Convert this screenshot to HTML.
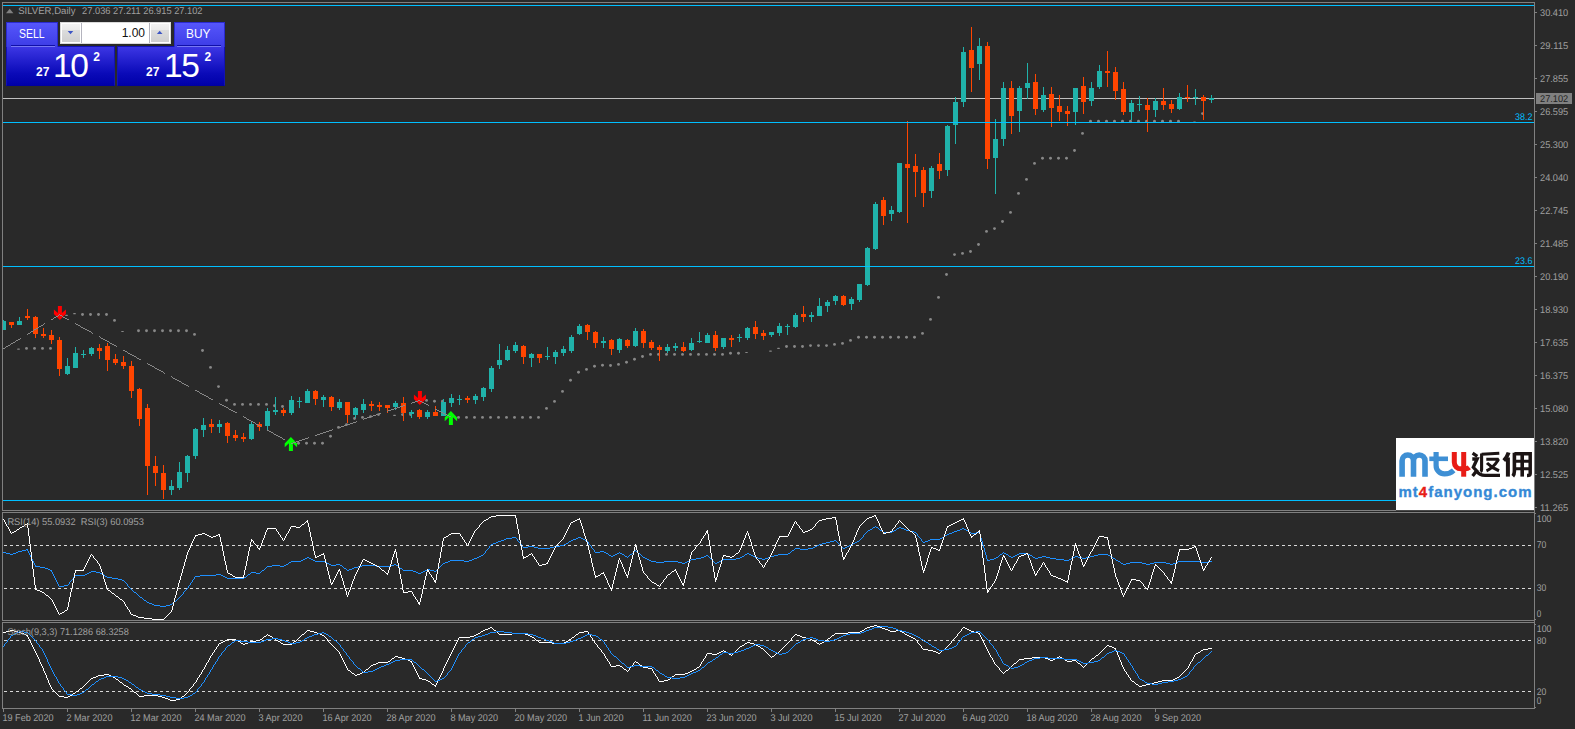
<!DOCTYPE html>
<html><head><meta charset="utf-8"><title>SILVER Daily</title><style>
html,body{margin:0;padding:0;background:#292929;overflow:hidden}
body{width:1575px;height:729px;position:relative;font-family:"Liberation Sans",sans-serif}
.tab{position:absolute;background:linear-gradient(#5656fb,#3c3ce6);box-sizing:border-box;border-top:1px solid #2a2ad0;border-left:1px solid #2a2ad0;border-right:1px solid #2a2ad0}
.tab span{position:absolute;color:#fff;font-size:12px;line-height:14px;transform-origin:0 0;white-space:nowrap}
.tab i{position:absolute;top:22px;height:1px;background:#1010a8;border-bottom:1px solid #7878f4}
.big{position:absolute;box-sizing:border-box;border:1px solid #1212b4;border-bottom-color:#0000a0;background:linear-gradient(#3c36e4,#0a0ab8 70%,#0000a8)}
.spin{position:absolute;left:60px;top:22px;width:111px;height:22px;background:#fff;box-sizing:border-box;border:1px solid #dadada}
.spin .btn{position:absolute;top:1px;width:18px;height:18px;background:linear-gradient(#f3f3f3,#ebebeb 32%,#dddddd 33%,#cfcfcf)}
.spin b{position:absolute;top:0;width:1px;height:20px;background:#b4b4be}
.spin .btn svg{position:absolute;left:0;top:0}
.spin .val{position:absolute;right:25px;top:3px;font-size:12px;line-height:14px;color:#101010}
.num{position:absolute;color:#fff;line-height:1.15;white-space:nowrap}
.logo{position:absolute;left:1396px;top:438px;width:138px;height:72px;background:#fff;overflow:hidden}
</style></head><body>
<svg width="1575" height="729" viewBox="0 0 1575 729" style="position:absolute;left:0;top:0;font-family:'Liberation Sans',sans-serif">
<rect x="0" y="0" width="1575" height="729" fill="#292929"/>
<g shape-rendering="crispEdges">
<rect x="2" y="2" width="1533" height="1" fill="#808080"/>
<rect x="2" y="510" width="1533" height="1" fill="#808080"/>
<rect x="2" y="2" width="1" height="509" fill="#808080"/>
<rect x="2" y="512" width="1533" height="1" fill="#808080"/>
<rect x="2" y="620" width="1533" height="1" fill="#808080"/>
<rect x="2" y="512" width="1" height="109" fill="#808080"/>
<rect x="2" y="622" width="1533" height="1" fill="#808080"/>
<rect x="2" y="708" width="1533" height="1" fill="#808080"/>
<rect x="2" y="622" width="1" height="87" fill="#808080"/>
<rect x="1534" y="2" width="1" height="707" fill="#808080"/>
<rect x="1396" y="510" width="138" height="1" fill="#4a4a4a"/>
</g>
<rect x="17.2" y="348.6" width="2.6" height="1.2" rx="0.5" fill="#888888"/>
<circle cx="26.5" cy="348.4" r="1.45" fill="#888888"/>
<circle cx="34.5" cy="348.4" r="1.45" fill="#888888"/>
<circle cx="42.5" cy="348.4" r="1.45" fill="#888888"/>
<circle cx="50.5" cy="348.4" r="1.45" fill="#888888"/>
<rect x="65.2" y="314.7" width="2.6" height="1.2" rx="0.5" fill="#888888"/>
<rect x="73.2" y="313.1" width="2.6" height="1.1" rx="0.5" fill="#888888"/>
<circle cx="82.5" cy="314.5" r="1.45" fill="#888888"/>
<circle cx="90.5" cy="314.5" r="1.45" fill="#888888"/>
<circle cx="98.5" cy="314.5" r="1.45" fill="#888888"/>
<circle cx="106.5" cy="314.5" r="1.45" fill="#888888"/>
<circle cx="114.5" cy="320.4" r="1.45" fill="#888888"/>
<rect x="121.2" y="330.9" width="2.6" height="1.2" rx="0.5" fill="#888888"/>
<circle cx="138.5" cy="330.7" r="1.45" fill="#888888"/>
<circle cx="146.5" cy="330.7" r="1.45" fill="#888888"/>
<circle cx="154.5" cy="330.7" r="1.45" fill="#888888"/>
<circle cx="162.5" cy="330.7" r="1.45" fill="#888888"/>
<circle cx="170.5" cy="330.7" r="1.45" fill="#888888"/>
<circle cx="178.5" cy="330.7" r="1.45" fill="#888888"/>
<circle cx="186.5" cy="330.7" r="1.45" fill="#888888"/>
<circle cx="194.5" cy="334.4" r="1.45" fill="#888888"/>
<circle cx="202.5" cy="350.5" r="1.45" fill="#888888"/>
<circle cx="210.5" cy="367.4" r="1.45" fill="#888888"/>
<circle cx="218.5" cy="386.6" r="1.45" fill="#888888"/>
<circle cx="226.5" cy="400.3" r="1.45" fill="#888888"/>
<circle cx="234.5" cy="404.4" r="1.45" fill="#888888"/>
<circle cx="242.5" cy="404.4" r="1.45" fill="#888888"/>
<circle cx="250.5" cy="404.4" r="1.45" fill="#888888"/>
<circle cx="258.5" cy="404.4" r="1.45" fill="#888888"/>
<circle cx="266.5" cy="404.4" r="1.45" fill="#888888"/>
<circle cx="274.5" cy="405.7" r="1.45" fill="#888888"/>
<circle cx="282.5" cy="406.5" r="1.45" fill="#888888"/>
<circle cx="298.5" cy="443.3" r="1.45" fill="#888888"/>
<circle cx="306.5" cy="443.3" r="1.45" fill="#888888"/>
<circle cx="314.5" cy="443.3" r="1.45" fill="#888888"/>
<circle cx="322.5" cy="443.3" r="1.45" fill="#888888"/>
<circle cx="330.5" cy="436.3" r="1.45" fill="#888888"/>
<circle cx="338.5" cy="427.4" r="1.45" fill="#888888"/>
<circle cx="346.5" cy="424.6" r="1.45" fill="#888888"/>
<circle cx="354.5" cy="418.5" r="1.45" fill="#888888"/>
<circle cx="362.5" cy="417.4" r="1.45" fill="#888888"/>
<circle cx="370.5" cy="416.6" r="1.45" fill="#888888"/>
<circle cx="378.5" cy="414.6" r="1.45" fill="#888888"/>
<rect x="393.2" y="414.8" width="2.6" height="1.2" rx="0.5" fill="#888888"/>
<circle cx="402.5" cy="414.6" r="1.45" fill="#888888"/>
<circle cx="410.5" cy="414.6" r="1.45" fill="#888888"/>
<circle cx="426.5" cy="400.4" r="1.45" fill="#888888"/>
<circle cx="434.5" cy="401.3" r="1.45" fill="#888888"/>
<circle cx="442.5" cy="401.3" r="1.45" fill="#888888"/>
<circle cx="458.5" cy="417.4" r="1.45" fill="#888888"/>
<circle cx="466.5" cy="417.4" r="1.45" fill="#888888"/>
<circle cx="474.5" cy="417.4" r="1.45" fill="#888888"/>
<circle cx="482.5" cy="417.4" r="1.45" fill="#888888"/>
<circle cx="490.5" cy="417.4" r="1.45" fill="#888888"/>
<circle cx="498.5" cy="417.4" r="1.45" fill="#888888"/>
<circle cx="506.5" cy="417.4" r="1.45" fill="#888888"/>
<circle cx="514.5" cy="417.4" r="1.45" fill="#888888"/>
<circle cx="522.5" cy="417.4" r="1.45" fill="#888888"/>
<circle cx="530.5" cy="417.4" r="1.45" fill="#888888"/>
<circle cx="538.5" cy="417.4" r="1.45" fill="#888888"/>
<circle cx="546.5" cy="408.4" r="1.45" fill="#888888"/>
<circle cx="554.5" cy="401.4" r="1.45" fill="#888888"/>
<circle cx="562.5" cy="391.4" r="1.45" fill="#888888"/>
<circle cx="570.5" cy="380.3" r="1.45" fill="#888888"/>
<circle cx="578.5" cy="372.3" r="1.45" fill="#888888"/>
<circle cx="586.5" cy="369.4" r="1.45" fill="#888888"/>
<circle cx="594.5" cy="366.3" r="1.45" fill="#888888"/>
<circle cx="602.5" cy="365.3" r="1.45" fill="#888888"/>
<circle cx="610.5" cy="365.5" r="1.45" fill="#888888"/>
<circle cx="618.5" cy="364.4" r="1.45" fill="#888888"/>
<circle cx="626.5" cy="362.3" r="1.45" fill="#888888"/>
<circle cx="634.5" cy="359.3" r="1.45" fill="#888888"/>
<circle cx="642.5" cy="356.5" r="1.45" fill="#888888"/>
<circle cx="650.5" cy="354.4" r="1.45" fill="#888888"/>
<circle cx="658.5" cy="354.4" r="1.45" fill="#888888"/>
<circle cx="666.5" cy="354.4" r="1.45" fill="#888888"/>
<circle cx="674.5" cy="354.4" r="1.45" fill="#888888"/>
<circle cx="682.5" cy="354.4" r="1.45" fill="#888888"/>
<circle cx="690.5" cy="354.4" r="1.45" fill="#888888"/>
<circle cx="698.5" cy="354.4" r="1.45" fill="#888888"/>
<circle cx="706.5" cy="354.4" r="1.45" fill="#888888"/>
<circle cx="714.5" cy="354.4" r="1.45" fill="#888888"/>
<circle cx="722.5" cy="354.4" r="1.45" fill="#888888"/>
<circle cx="730.5" cy="353.3" r="1.45" fill="#888888"/>
<circle cx="738.5" cy="353.3" r="1.45" fill="#888888"/>
<rect x="745.2" y="351.9" width="2.6" height="1.1" rx="0.5" fill="#888888"/>
<rect x="769.2" y="350.6" width="2.6" height="1.2" rx="0.5" fill="#888888"/>
<rect x="777.2" y="347.8" width="2.6" height="1.2" rx="0.5" fill="#888888"/>
<circle cx="786.5" cy="346.5" r="1.45" fill="#888888"/>
<circle cx="794.5" cy="346.5" r="1.45" fill="#888888"/>
<circle cx="802.5" cy="346.5" r="1.45" fill="#888888"/>
<circle cx="810.5" cy="345.6" r="1.45" fill="#888888"/>
<circle cx="818.5" cy="345.6" r="1.45" fill="#888888"/>
<circle cx="826.5" cy="345.6" r="1.45" fill="#888888"/>
<circle cx="834.5" cy="344.4" r="1.45" fill="#888888"/>
<circle cx="842.5" cy="343.4" r="1.45" fill="#888888"/>
<circle cx="850.5" cy="340.4" r="1.45" fill="#888888"/>
<circle cx="858.5" cy="337.3" r="1.45" fill="#888888"/>
<circle cx="866.5" cy="337.3" r="1.45" fill="#888888"/>
<circle cx="874.5" cy="337.3" r="1.45" fill="#888888"/>
<circle cx="882.5" cy="337.3" r="1.45" fill="#888888"/>
<circle cx="890.5" cy="337.3" r="1.45" fill="#888888"/>
<circle cx="898.5" cy="337.3" r="1.45" fill="#888888"/>
<circle cx="906.5" cy="337.3" r="1.45" fill="#888888"/>
<circle cx="914.5" cy="337.3" r="1.45" fill="#888888"/>
<circle cx="922.5" cy="333.4" r="1.45" fill="#888888"/>
<circle cx="930.5" cy="319.4" r="1.45" fill="#888888"/>
<circle cx="938.5" cy="297.4" r="1.45" fill="#888888"/>
<circle cx="946.5" cy="274.5" r="1.45" fill="#888888"/>
<circle cx="954.5" cy="254.6" r="1.45" fill="#888888"/>
<circle cx="962.5" cy="253.4" r="1.45" fill="#888888"/>
<circle cx="970.5" cy="251.5" r="1.45" fill="#888888"/>
<circle cx="978.5" cy="244.5" r="1.45" fill="#888888"/>
<circle cx="986.5" cy="231.4" r="1.45" fill="#888888"/>
<circle cx="994.5" cy="228.6" r="1.45" fill="#888888"/>
<circle cx="1002.5" cy="221.5" r="1.45" fill="#888888"/>
<circle cx="1010.5" cy="212.4" r="1.45" fill="#888888"/>
<circle cx="1018.5" cy="193.4" r="1.45" fill="#888888"/>
<circle cx="1026.5" cy="179.4" r="1.45" fill="#888888"/>
<circle cx="1034.5" cy="163.4" r="1.45" fill="#888888"/>
<circle cx="1042.5" cy="158.3" r="1.45" fill="#888888"/>
<circle cx="1050.5" cy="158.3" r="1.45" fill="#888888"/>
<circle cx="1058.5" cy="158.3" r="1.45" fill="#888888"/>
<circle cx="1066.5" cy="158.3" r="1.45" fill="#888888"/>
<circle cx="1074.5" cy="150.5" r="1.45" fill="#888888"/>
<circle cx="1082.5" cy="133.4" r="1.45" fill="#888888"/>
<circle cx="1090.5" cy="121.2" r="1.45" fill="#888888"/>
<circle cx="1098.5" cy="121.2" r="1.45" fill="#888888"/>
<circle cx="1106.5" cy="121.2" r="1.45" fill="#888888"/>
<circle cx="1114.5" cy="121.2" r="1.45" fill="#888888"/>
<circle cx="1122.5" cy="121.2" r="1.45" fill="#888888"/>
<circle cx="1130.5" cy="121.2" r="1.45" fill="#888888"/>
<circle cx="1138.5" cy="121.2" r="1.45" fill="#888888"/>
<circle cx="1146.5" cy="121.2" r="1.45" fill="#888888"/>
<circle cx="1154.5" cy="121.2" r="1.45" fill="#888888"/>
<circle cx="1162.5" cy="121.2" r="1.45" fill="#888888"/>
<circle cx="1170.5" cy="121.2" r="1.45" fill="#888888"/>
<circle cx="1178.5" cy="121.2" r="1.45" fill="#888888"/>
<rect x="1193.2" y="121.4" width="2.6" height="1.2" rx="0.5" fill="#888888"/>
<circle cx="1202.5" cy="113.6" r="1.45" fill="#888888"/>
<g shape-rendering="crispEdges">
<rect x="3" y="98" width="1531" height="1" fill="#c0c0c0"/>
<rect x="3" y="321" width="3" height="9" fill="#20b2aa"/>
<rect x="3" y="320" width="1" height="1" fill="#20b2aa"/>
<rect x="11" y="322" width="1" height="6" fill="#ff4500"/>
<rect x="9" y="322" width="5" height="3" fill="#ff4500"/>
<rect x="19" y="317" width="1" height="8" fill="#20b2aa"/>
<rect x="17" y="321" width="5" height="4" fill="#20b2aa"/>
<rect x="27" y="309" width="1" height="11" fill="#ff4500"/>
<rect x="25" y="316" width="5" height="2" fill="#ff4500"/>
<rect x="35" y="316" width="1" height="22" fill="#ff4500"/>
<rect x="33" y="317" width="5" height="17" fill="#ff4500"/>
<rect x="43" y="328" width="1" height="10" fill="#ff4500"/>
<rect x="41" y="334" width="5" height="2" fill="#ff4500"/>
<rect x="51" y="330" width="1" height="14" fill="#ff4500"/>
<rect x="49" y="335" width="5" height="5" fill="#ff4500"/>
<rect x="59" y="337" width="1" height="39" fill="#ff4500"/>
<rect x="57" y="340" width="5" height="29" fill="#ff4500"/>
<rect x="67" y="358" width="1" height="17" fill="#20b2aa"/>
<rect x="65" y="366" width="5" height="8" fill="#20b2aa"/>
<rect x="75" y="347" width="1" height="21" fill="#20b2aa"/>
<rect x="73" y="353" width="5" height="15" fill="#20b2aa"/>
<rect x="83" y="350" width="1" height="8" fill="#20b2aa"/>
<rect x="81" y="354" width="5" height="1" fill="#20b2aa"/>
<rect x="91" y="347" width="1" height="9" fill="#20b2aa"/>
<rect x="89" y="348" width="5" height="6" fill="#20b2aa"/>
<rect x="99" y="344" width="1" height="15" fill="#ff4500"/>
<rect x="97" y="348" width="5" height="3" fill="#ff4500"/>
<rect x="107" y="343" width="1" height="28" fill="#ff4500"/>
<rect x="105" y="346" width="5" height="14" fill="#ff4500"/>
<rect x="115" y="354" width="1" height="11" fill="#ff4500"/>
<rect x="113" y="359" width="5" height="4" fill="#ff4500"/>
<rect x="123" y="356" width="1" height="13" fill="#ff4500"/>
<rect x="121" y="362" width="5" height="4" fill="#ff4500"/>
<rect x="131" y="361" width="1" height="37" fill="#ff4500"/>
<rect x="129" y="366" width="5" height="25" fill="#ff4500"/>
<rect x="139" y="388" width="1" height="38" fill="#ff4500"/>
<rect x="137" y="389" width="5" height="30" fill="#ff4500"/>
<rect x="147" y="404" width="1" height="91" fill="#ff4500"/>
<rect x="145" y="408" width="5" height="58" fill="#ff4500"/>
<rect x="155" y="456" width="1" height="30" fill="#ff4500"/>
<rect x="153" y="466" width="5" height="7" fill="#ff4500"/>
<rect x="163" y="465" width="1" height="34" fill="#ff4500"/>
<rect x="161" y="473" width="5" height="17" fill="#ff4500"/>
<rect x="171" y="480" width="1" height="15" fill="#20b2aa"/>
<rect x="169" y="486" width="5" height="4" fill="#20b2aa"/>
<rect x="179" y="462" width="1" height="28" fill="#20b2aa"/>
<rect x="177" y="472" width="5" height="16" fill="#20b2aa"/>
<rect x="187" y="455" width="1" height="27" fill="#20b2aa"/>
<rect x="185" y="456" width="5" height="17" fill="#20b2aa"/>
<rect x="195" y="428" width="1" height="31" fill="#20b2aa"/>
<rect x="193" y="429" width="5" height="27" fill="#20b2aa"/>
<rect x="203" y="418" width="1" height="19" fill="#20b2aa"/>
<rect x="201" y="425" width="5" height="5" fill="#20b2aa"/>
<rect x="211" y="419" width="1" height="14" fill="#ff4500"/>
<rect x="209" y="424" width="5" height="3" fill="#ff4500"/>
<rect x="219" y="420" width="1" height="13" fill="#20b2aa"/>
<rect x="217" y="424" width="5" height="3" fill="#20b2aa"/>
<rect x="227" y="422" width="1" height="21" fill="#ff4500"/>
<rect x="225" y="423" width="5" height="13" fill="#ff4500"/>
<rect x="235" y="430" width="1" height="11" fill="#ff4500"/>
<rect x="233" y="435" width="5" height="3" fill="#ff4500"/>
<rect x="243" y="433" width="1" height="9" fill="#ff4500"/>
<rect x="241" y="437" width="5" height="2" fill="#ff4500"/>
<rect x="251" y="422" width="1" height="18" fill="#20b2aa"/>
<rect x="249" y="424" width="5" height="15" fill="#20b2aa"/>
<rect x="259" y="422" width="1" height="9" fill="#ff4500"/>
<rect x="257" y="424" width="5" height="3" fill="#ff4500"/>
<rect x="267" y="408" width="1" height="22" fill="#20b2aa"/>
<rect x="265" y="411" width="5" height="15" fill="#20b2aa"/>
<rect x="275" y="397" width="1" height="18" fill="#20b2aa"/>
<rect x="273" y="410" width="5" height="2" fill="#20b2aa"/>
<rect x="283" y="408" width="1" height="8" fill="#ff4500"/>
<rect x="281" y="410" width="5" height="3" fill="#ff4500"/>
<rect x="291" y="396" width="1" height="19" fill="#20b2aa"/>
<rect x="289" y="400" width="5" height="13" fill="#20b2aa"/>
<rect x="299" y="397" width="1" height="11" fill="#20b2aa"/>
<rect x="297" y="401" width="5" height="1" fill="#20b2aa"/>
<rect x="307" y="389" width="1" height="14" fill="#20b2aa"/>
<rect x="305" y="391" width="5" height="12" fill="#20b2aa"/>
<rect x="315" y="390" width="1" height="15" fill="#ff4500"/>
<rect x="313" y="391" width="5" height="8" fill="#ff4500"/>
<rect x="323" y="395" width="1" height="12" fill="#20b2aa"/>
<rect x="321" y="397" width="5" height="3" fill="#20b2aa"/>
<rect x="331" y="396" width="1" height="15" fill="#ff4500"/>
<rect x="329" y="397" width="5" height="10" fill="#ff4500"/>
<rect x="339" y="399" width="1" height="11" fill="#20b2aa"/>
<rect x="337" y="402" width="5" height="6" fill="#20b2aa"/>
<rect x="347" y="402" width="1" height="21" fill="#ff4500"/>
<rect x="345" y="402" width="5" height="13" fill="#ff4500"/>
<rect x="355" y="407" width="1" height="11" fill="#20b2aa"/>
<rect x="353" y="408" width="5" height="7" fill="#20b2aa"/>
<rect x="363" y="399" width="1" height="14" fill="#20b2aa"/>
<rect x="361" y="404" width="5" height="6" fill="#20b2aa"/>
<rect x="371" y="401" width="1" height="10" fill="#ff4500"/>
<rect x="369" y="404" width="5" height="2" fill="#ff4500"/>
<rect x="379" y="402" width="1" height="9" fill="#ff4500"/>
<rect x="377" y="405" width="5" height="2" fill="#ff4500"/>
<rect x="387" y="405" width="1" height="8" fill="#ff4500"/>
<rect x="385" y="405" width="5" height="3" fill="#ff4500"/>
<rect x="395" y="401" width="1" height="9" fill="#20b2aa"/>
<rect x="393" y="403" width="5" height="4" fill="#20b2aa"/>
<rect x="403" y="397" width="1" height="24" fill="#ff4500"/>
<rect x="401" y="403" width="5" height="10" fill="#ff4500"/>
<rect x="411" y="410" width="1" height="8" fill="#20b2aa"/>
<rect x="409" y="412" width="5" height="2" fill="#20b2aa"/>
<rect x="419" y="409" width="1" height="10" fill="#ff4500"/>
<rect x="417" y="410" width="5" height="7" fill="#ff4500"/>
<rect x="427" y="410" width="1" height="9" fill="#20b2aa"/>
<rect x="425" y="412" width="5" height="5" fill="#20b2aa"/>
<rect x="435" y="406" width="1" height="10" fill="#ff4500"/>
<rect x="433" y="412" width="5" height="4" fill="#ff4500"/>
<rect x="443" y="399" width="1" height="17" fill="#20b2aa"/>
<rect x="441" y="402" width="5" height="14" fill="#20b2aa"/>
<rect x="451" y="394" width="1" height="13" fill="#20b2aa"/>
<rect x="449" y="398" width="5" height="5" fill="#20b2aa"/>
<rect x="459" y="395" width="1" height="10" fill="#20b2aa"/>
<rect x="457" y="399" width="5" height="1" fill="#20b2aa"/>
<rect x="467" y="396" width="1" height="7" fill="#ff4500"/>
<rect x="465" y="398" width="5" height="2" fill="#ff4500"/>
<rect x="475" y="394" width="1" height="10" fill="#20b2aa"/>
<rect x="473" y="396" width="5" height="4" fill="#20b2aa"/>
<rect x="483" y="387" width="1" height="14" fill="#20b2aa"/>
<rect x="481" y="388" width="5" height="9" fill="#20b2aa"/>
<rect x="491" y="366" width="1" height="26" fill="#20b2aa"/>
<rect x="489" y="368" width="5" height="21" fill="#20b2aa"/>
<rect x="499" y="344" width="1" height="25" fill="#20b2aa"/>
<rect x="497" y="360" width="5" height="5" fill="#20b2aa"/>
<rect x="507" y="346" width="1" height="15" fill="#20b2aa"/>
<rect x="505" y="350" width="5" height="10" fill="#20b2aa"/>
<rect x="515" y="342" width="1" height="11" fill="#20b2aa"/>
<rect x="513" y="345" width="5" height="6" fill="#20b2aa"/>
<rect x="523" y="345" width="1" height="19" fill="#ff4500"/>
<rect x="521" y="346" width="5" height="11" fill="#ff4500"/>
<rect x="531" y="353" width="1" height="14" fill="#20b2aa"/>
<rect x="529" y="354" width="5" height="4" fill="#20b2aa"/>
<rect x="539" y="354" width="1" height="9" fill="#ff4500"/>
<rect x="537" y="354" width="5" height="4" fill="#ff4500"/>
<rect x="547" y="347" width="1" height="13" fill="#20b2aa"/>
<rect x="545" y="356" width="5" height="1" fill="#20b2aa"/>
<rect x="555" y="350" width="1" height="14" fill="#20b2aa"/>
<rect x="553" y="352" width="5" height="5" fill="#20b2aa"/>
<rect x="563" y="346" width="1" height="10" fill="#20b2aa"/>
<rect x="561" y="349" width="5" height="4" fill="#20b2aa"/>
<rect x="571" y="335" width="1" height="18" fill="#20b2aa"/>
<rect x="569" y="337" width="5" height="14" fill="#20b2aa"/>
<rect x="579" y="324" width="1" height="11" fill="#20b2aa"/>
<rect x="577" y="326" width="5" height="8" fill="#20b2aa"/>
<rect x="587" y="324" width="1" height="16" fill="#ff4500"/>
<rect x="585" y="325" width="5" height="7" fill="#ff4500"/>
<rect x="595" y="331" width="1" height="17" fill="#ff4500"/>
<rect x="593" y="332" width="5" height="11" fill="#ff4500"/>
<rect x="603" y="337" width="1" height="11" fill="#20b2aa"/>
<rect x="601" y="341" width="5" height="2" fill="#20b2aa"/>
<rect x="611" y="339" width="1" height="16" fill="#ff4500"/>
<rect x="609" y="340" width="5" height="9" fill="#ff4500"/>
<rect x="619" y="338" width="1" height="15" fill="#20b2aa"/>
<rect x="617" y="339" width="5" height="11" fill="#20b2aa"/>
<rect x="627" y="339" width="1" height="9" fill="#ff4500"/>
<rect x="625" y="340" width="5" height="6" fill="#ff4500"/>
<rect x="635" y="328" width="1" height="19" fill="#20b2aa"/>
<rect x="633" y="331" width="5" height="15" fill="#20b2aa"/>
<rect x="643" y="329" width="1" height="19" fill="#ff4500"/>
<rect x="641" y="331" width="5" height="12" fill="#ff4500"/>
<rect x="651" y="340" width="1" height="10" fill="#ff4500"/>
<rect x="649" y="342" width="5" height="6" fill="#ff4500"/>
<rect x="659" y="345" width="1" height="16" fill="#ff4500"/>
<rect x="657" y="347" width="5" height="3" fill="#ff4500"/>
<rect x="667" y="344" width="1" height="9" fill="#20b2aa"/>
<rect x="665" y="347" width="5" height="4" fill="#20b2aa"/>
<rect x="675" y="343" width="1" height="8" fill="#20b2aa"/>
<rect x="673" y="346" width="5" height="2" fill="#20b2aa"/>
<rect x="683" y="342" width="1" height="10" fill="#ff4500"/>
<rect x="681" y="347" width="5" height="4" fill="#ff4500"/>
<rect x="691" y="338" width="1" height="13" fill="#20b2aa"/>
<rect x="689" y="343" width="5" height="7" fill="#20b2aa"/>
<rect x="699" y="332" width="1" height="11" fill="#20b2aa"/>
<rect x="697" y="341" width="5" height="1" fill="#20b2aa"/>
<rect x="707" y="333" width="1" height="10" fill="#20b2aa"/>
<rect x="705" y="335" width="5" height="8" fill="#20b2aa"/>
<rect x="715" y="331" width="1" height="20" fill="#ff4500"/>
<rect x="713" y="335" width="5" height="13" fill="#ff4500"/>
<rect x="723" y="338" width="1" height="11" fill="#20b2aa"/>
<rect x="721" y="338" width="5" height="9" fill="#20b2aa"/>
<rect x="731" y="335" width="1" height="12" fill="#ff4500"/>
<rect x="729" y="338" width="5" height="2" fill="#ff4500"/>
<rect x="739" y="334" width="1" height="8" fill="#20b2aa"/>
<rect x="737" y="337" width="5" height="1" fill="#20b2aa"/>
<rect x="747" y="327" width="1" height="13" fill="#20b2aa"/>
<rect x="745" y="328" width="5" height="10" fill="#20b2aa"/>
<rect x="755" y="321" width="1" height="18" fill="#ff4500"/>
<rect x="753" y="327" width="5" height="7" fill="#ff4500"/>
<rect x="763" y="330" width="1" height="10" fill="#ff4500"/>
<rect x="761" y="333" width="5" height="3" fill="#ff4500"/>
<rect x="771" y="332" width="1" height="5" fill="#20b2aa"/>
<rect x="769" y="332" width="5" height="3" fill="#20b2aa"/>
<rect x="779" y="323" width="1" height="13" fill="#20b2aa"/>
<rect x="777" y="326" width="5" height="7" fill="#20b2aa"/>
<rect x="787" y="324" width="1" height="11" fill="#20b2aa"/>
<rect x="785" y="326" width="5" height="1" fill="#20b2aa"/>
<rect x="795" y="313" width="1" height="15" fill="#20b2aa"/>
<rect x="793" y="315" width="5" height="12" fill="#20b2aa"/>
<rect x="803" y="306" width="1" height="16" fill="#ff4500"/>
<rect x="801" y="314" width="5" height="3" fill="#ff4500"/>
<rect x="811" y="312" width="1" height="10" fill="#20b2aa"/>
<rect x="809" y="315" width="5" height="2" fill="#20b2aa"/>
<rect x="819" y="298" width="1" height="18" fill="#20b2aa"/>
<rect x="817" y="306" width="5" height="10" fill="#20b2aa"/>
<rect x="827" y="300" width="1" height="12" fill="#20b2aa"/>
<rect x="825" y="302" width="5" height="4" fill="#20b2aa"/>
<rect x="835" y="295" width="1" height="10" fill="#20b2aa"/>
<rect x="833" y="296" width="5" height="5" fill="#20b2aa"/>
<rect x="843" y="295" width="1" height="11" fill="#ff4500"/>
<rect x="841" y="296" width="5" height="9" fill="#ff4500"/>
<rect x="851" y="297" width="1" height="13" fill="#20b2aa"/>
<rect x="849" y="299" width="5" height="5" fill="#20b2aa"/>
<rect x="859" y="284" width="1" height="18" fill="#20b2aa"/>
<rect x="857" y="284" width="5" height="16" fill="#20b2aa"/>
<rect x="867" y="247" width="1" height="39" fill="#20b2aa"/>
<rect x="865" y="248" width="5" height="37" fill="#20b2aa"/>
<rect x="875" y="202" width="1" height="48" fill="#20b2aa"/>
<rect x="873" y="204" width="5" height="45" fill="#20b2aa"/>
<rect x="883" y="197" width="1" height="28" fill="#ff4500"/>
<rect x="881" y="200" width="5" height="16" fill="#ff4500"/>
<rect x="891" y="206" width="1" height="15" fill="#20b2aa"/>
<rect x="889" y="210" width="5" height="4" fill="#20b2aa"/>
<rect x="899" y="163" width="1" height="50" fill="#20b2aa"/>
<rect x="897" y="163" width="5" height="49" fill="#20b2aa"/>
<rect x="907" y="121" width="1" height="102" fill="#ff4500"/>
<rect x="905" y="164" width="5" height="4" fill="#ff4500"/>
<rect x="915" y="154" width="1" height="43" fill="#ff4500"/>
<rect x="913" y="166" width="5" height="6" fill="#ff4500"/>
<rect x="923" y="167" width="1" height="40" fill="#ff4500"/>
<rect x="921" y="170" width="5" height="23" fill="#ff4500"/>
<rect x="931" y="166" width="1" height="32" fill="#20b2aa"/>
<rect x="929" y="168" width="5" height="23" fill="#20b2aa"/>
<rect x="939" y="153" width="1" height="26" fill="#ff4500"/>
<rect x="937" y="164" width="5" height="7" fill="#ff4500"/>
<rect x="947" y="125" width="1" height="51" fill="#20b2aa"/>
<rect x="945" y="126" width="5" height="44" fill="#20b2aa"/>
<rect x="955" y="97" width="1" height="47" fill="#20b2aa"/>
<rect x="953" y="102" width="5" height="23" fill="#20b2aa"/>
<rect x="963" y="47" width="1" height="60" fill="#20b2aa"/>
<rect x="961" y="52" width="5" height="50" fill="#20b2aa"/>
<rect x="971" y="27" width="1" height="65" fill="#ff4500"/>
<rect x="969" y="50" width="5" height="18" fill="#ff4500"/>
<rect x="979" y="38" width="1" height="42" fill="#20b2aa"/>
<rect x="977" y="46" width="5" height="18" fill="#20b2aa"/>
<rect x="987" y="42" width="1" height="127" fill="#ff4500"/>
<rect x="985" y="46" width="5" height="113" fill="#ff4500"/>
<rect x="995" y="119" width="1" height="75" fill="#20b2aa"/>
<rect x="993" y="139" width="5" height="19" fill="#20b2aa"/>
<rect x="1003" y="82" width="1" height="64" fill="#20b2aa"/>
<rect x="1001" y="88" width="5" height="51" fill="#20b2aa"/>
<rect x="1011" y="81" width="1" height="53" fill="#ff4500"/>
<rect x="1009" y="88" width="5" height="28" fill="#ff4500"/>
<rect x="1019" y="86" width="1" height="46" fill="#20b2aa"/>
<rect x="1017" y="88" width="5" height="23" fill="#20b2aa"/>
<rect x="1027" y="63" width="1" height="36" fill="#20b2aa"/>
<rect x="1025" y="83" width="5" height="5" fill="#20b2aa"/>
<rect x="1035" y="74" width="1" height="41" fill="#ff4500"/>
<rect x="1033" y="82" width="5" height="27" fill="#ff4500"/>
<rect x="1043" y="87" width="1" height="25" fill="#20b2aa"/>
<rect x="1041" y="95" width="5" height="15" fill="#20b2aa"/>
<rect x="1051" y="87" width="1" height="40" fill="#ff4500"/>
<rect x="1049" y="94" width="5" height="14" fill="#ff4500"/>
<rect x="1059" y="95" width="1" height="26" fill="#ff4500"/>
<rect x="1057" y="106" width="5" height="6" fill="#ff4500"/>
<rect x="1067" y="106" width="1" height="20" fill="#ff4500"/>
<rect x="1065" y="111" width="5" height="3" fill="#ff4500"/>
<rect x="1075" y="88" width="1" height="37" fill="#20b2aa"/>
<rect x="1073" y="88" width="5" height="24" fill="#20b2aa"/>
<rect x="1083" y="77" width="1" height="37" fill="#ff4500"/>
<rect x="1081" y="86" width="5" height="16" fill="#ff4500"/>
<rect x="1091" y="82" width="1" height="24" fill="#20b2aa"/>
<rect x="1089" y="88" width="5" height="13" fill="#20b2aa"/>
<rect x="1099" y="65" width="1" height="24" fill="#20b2aa"/>
<rect x="1097" y="71" width="5" height="16" fill="#20b2aa"/>
<rect x="1107" y="51" width="1" height="36" fill="#ff4500"/>
<rect x="1105" y="71" width="5" height="2" fill="#ff4500"/>
<rect x="1115" y="67" width="1" height="33" fill="#ff4500"/>
<rect x="1113" y="72" width="5" height="19" fill="#ff4500"/>
<rect x="1123" y="82" width="1" height="33" fill="#ff4500"/>
<rect x="1121" y="89" width="5" height="23" fill="#ff4500"/>
<rect x="1131" y="100" width="1" height="20" fill="#20b2aa"/>
<rect x="1129" y="103" width="5" height="9" fill="#20b2aa"/>
<rect x="1139" y="96" width="1" height="15" fill="#20b2aa"/>
<rect x="1137" y="104" width="5" height="1" fill="#20b2aa"/>
<rect x="1147" y="98" width="1" height="34" fill="#ff4500"/>
<rect x="1145" y="105" width="5" height="5" fill="#ff4500"/>
<rect x="1155" y="98" width="1" height="19" fill="#20b2aa"/>
<rect x="1153" y="101" width="5" height="9" fill="#20b2aa"/>
<rect x="1163" y="88" width="1" height="22" fill="#ff4500"/>
<rect x="1161" y="101" width="5" height="4" fill="#ff4500"/>
<rect x="1171" y="100" width="1" height="13" fill="#ff4500"/>
<rect x="1169" y="104" width="5" height="5" fill="#ff4500"/>
<rect x="1179" y="93" width="1" height="17" fill="#20b2aa"/>
<rect x="1177" y="97" width="5" height="12" fill="#20b2aa"/>
<rect x="1187" y="85" width="1" height="17" fill="#ff4500"/>
<rect x="1185" y="97" width="5" height="1" fill="#ff4500"/>
<rect x="1195" y="89" width="1" height="16" fill="#20b2aa"/>
<rect x="1193" y="97" width="5" height="1" fill="#20b2aa"/>
<rect x="1203" y="95" width="1" height="25" fill="#ff4500"/>
<rect x="1201" y="97" width="5" height="4" fill="#ff4500"/>
<rect x="1211" y="95" width="1" height="8" fill="#20b2aa"/>
<rect x="1209" y="98" width="5" height="2" fill="#20b2aa"/>
<rect x="3" y="5" width="1531" height="1" fill="#00bfff"/>
<rect x="3" y="122" width="1531" height="1" fill="#00bfff"/>
<rect x="3" y="266" width="1531" height="1" fill="#00bfff"/>
<rect x="3" y="500" width="1531" height="1" fill="#00bfff"/>
<rect x="1535" y="12" width="2" height="1" fill="#808080"/>
<rect x="1535" y="45" width="2" height="1" fill="#808080"/>
<rect x="1535" y="78" width="2" height="1" fill="#808080"/>
<rect x="1535" y="111" width="2" height="1" fill="#808080"/>
<rect x="1535" y="144" width="2" height="1" fill="#808080"/>
<rect x="1535" y="177" width="2" height="1" fill="#808080"/>
<rect x="1535" y="210" width="2" height="1" fill="#808080"/>
<rect x="1535" y="243" width="2" height="1" fill="#808080"/>
<rect x="1535" y="276" width="2" height="1" fill="#808080"/>
<rect x="1535" y="309" width="2" height="1" fill="#808080"/>
<rect x="1535" y="342" width="2" height="1" fill="#808080"/>
<rect x="1535" y="375" width="2" height="1" fill="#808080"/>
<rect x="1535" y="408" width="2" height="1" fill="#808080"/>
<rect x="1535" y="441" width="2" height="1" fill="#808080"/>
<rect x="1535" y="474" width="2" height="1" fill="#808080"/>
<rect x="1535" y="507" width="2" height="1" fill="#808080"/>
<rect x="1535" y="619" width="1" height="1" fill="#808080"/>
<rect x="1535" y="624" width="1" height="1" fill="#808080"/>
<rect x="1535" y="513" width="1" height="1" fill="#808080"/>
<rect x="1535" y="707" width="1" height="1" fill="#808080"/>
<rect x="3" y="709" width="1" height="3" fill="#808080"/>
<rect x="67" y="709" width="1" height="3" fill="#808080"/>
<rect x="131" y="709" width="1" height="3" fill="#808080"/>
<rect x="195" y="709" width="1" height="3" fill="#808080"/>
<rect x="259" y="709" width="1" height="3" fill="#808080"/>
<rect x="323" y="709" width="1" height="3" fill="#808080"/>
<rect x="387" y="709" width="1" height="3" fill="#808080"/>
<rect x="451" y="709" width="1" height="3" fill="#808080"/>
<rect x="515" y="709" width="1" height="3" fill="#808080"/>
<rect x="579" y="709" width="1" height="3" fill="#808080"/>
<rect x="643" y="709" width="1" height="3" fill="#808080"/>
<rect x="707" y="709" width="1" height="3" fill="#808080"/>
<rect x="771" y="709" width="1" height="3" fill="#808080"/>
<rect x="835" y="709" width="1" height="3" fill="#808080"/>
<rect x="899" y="709" width="1" height="3" fill="#808080"/>
<rect x="963" y="709" width="1" height="3" fill="#808080"/>
<rect x="1027" y="709" width="1" height="3" fill="#808080"/>
<rect x="1091" y="709" width="1" height="3" fill="#808080"/>
<rect x="1155" y="709" width="1" height="3" fill="#808080"/>
<path d="M4 545.5H1534" stroke="#d8d8d8" stroke-width="1" stroke-dasharray="3 3" fill="none"/>
<path d="M4 588.5H1534" stroke="#d8d8d8" stroke-width="1" stroke-dasharray="3 3" fill="none"/>
<path d="M4 640.5H1534" stroke="#d8d8d8" stroke-width="1" stroke-dasharray="3 3" fill="none"/>
<path d="M4 691.5H1534" stroke="#d8d8d8" stroke-width="1" stroke-dasharray="3 3" fill="none"/>
</g>
<path d="M3 552h3v1h-3zM6 553h4v1h-4zM10 554h3v1h-3zM13 553h3v1h-3zM16 552h2v1h-2zM18 551h4v1h-4zM22 550h4v1h-4zM26 549h1v1h-1zM27 549h1v2h-1zM28 551h1v2h-1zM29 553h1v2h-1zM30 555h1v2h-1zM31 557h1v2h-1zM32 559h1v2h-1zM33 561h1v2h-1zM34 563h1v2h-1zM35 565h1v2h-1zM36 566h4v1h-4zM40 567h5v1h-5zM45 568h3v1h-3zM48 569h2v1h-2zM50 570h1v1h-1zM51 570h1v2h-1zM52 572h1v2h-1zM53 574h1v2h-1zM54 576h1v2h-1zM55 578h1v2h-1zM56 580h1v2h-1zM57 582h1v2h-1zM58 584h1v2h-1zM59 586h5v1h-5zM64 585h4v1h-4zM68 584h1v1h-1zM69 582h1v2h-1zM70 581h1v1h-1zM71 580h1v1h-1zM72 579h1v1h-1zM73 577h1v2h-1zM74 576h1v1h-1zM75 575h10v1h-10zM85 574h2v1h-2zM87 573h2v1h-2zM89 572h2v1h-2zM91 571h5v1h-5zM96 572h4v1h-4zM100 573h2v1h-2zM102 574h2v1h-2zM104 575h1v1h-1zM105 576h2v1h-2zM107 577h5v1h-5zM112 578h6v1h-6zM118 579h4v1h-4zM122 580h2v1h-2zM124 581h1v1h-1zM125 582h1v1h-1zM126 583h1v1h-1zM127 584h1v2h-1zM128 586h1v1h-1zM129 587h1v1h-1zM130 588h1v1h-1zM131 589h1v1h-1zM132 590h1v1h-1zM133 591h1v1h-1zM134 592h2v1h-2zM136 593h1v1h-1zM137 594h1v1h-1zM138 595h1v1h-1zM139 596h1v1h-1zM140 597h2v1h-2zM142 598h1v1h-1zM143 599h1v1h-1zM144 600h2v1h-2zM146 601h1v1h-1zM147 602h2v1h-2zM149 603h3v1h-3zM152 604h2v1h-2zM154 605h6v1h-6zM160 606h6v1h-6zM166 605h4v1h-4zM170 604h2v1h-2zM172 603h1v1h-1zM173 602h1v1h-1zM174 601h2v1h-2zM176 600h1v1h-1zM177 599h1v1h-1zM178 598h1v1h-1zM179 597h1v1h-1zM180 596h1v1h-1zM181 595h1v1h-1zM182 594h1v1h-1zM183 592h1v2h-1zM184 591h1v1h-1zM185 590h1v1h-1zM186 589h1v1h-1zM187 588h1v1h-1zM188 586h1v2h-1zM189 585h1v1h-1zM190 583h1v2h-1zM191 582h1v1h-1zM192 580h1v2h-1zM193 579h1v1h-1zM194 577h1v2h-1zM195 576h5v1h-5zM200 575h16v1h-16zM216 574h5v1h-5zM221 575h2v1h-2zM223 576h2v1h-2zM225 577h2v1h-2zM227 578h17v1h-17zM244 577h2v1h-2zM246 576h1v1h-1zM247 575h1v1h-1zM248 574h2v1h-2zM250 573h1v1h-1zM251 572h5v1h-5zM256 573h4v1h-4zM260 572h1v1h-1zM261 571h1v1h-1zM262 570h2v1h-2zM264 569h1v1h-1zM265 568h1v1h-1zM266 567h1v1h-1zM267 566h5v1h-5zM272 565h8v1h-8zM280 566h4v1h-4zM284 565h2v1h-2zM286 564h2v1h-2zM288 563h1v1h-1zM289 562h2v1h-2zM291 561h10v1h-10zM301 560h2v1h-2zM303 559h2v1h-2zM305 558h2v1h-2zM307 557h2v1h-2zM309 558h2v1h-2zM311 559h2v1h-2zM313 560h2v1h-2zM315 561h10v1h-10zM325 562h2v1h-2zM327 563h2v1h-2zM329 564h2v1h-2zM331 565h5v1h-5zM336 564h4v1h-4zM340 565h2v1h-2zM342 566h1v1h-1zM343 567h1v1h-1zM344 568h2v1h-2zM346 569h1v1h-1zM347 570h2v1h-2zM349 569h3v1h-3zM352 568h2v1h-2zM354 567h4v1h-4zM358 566h4v1h-4zM362 565h14v1h-14zM376 566h14v1h-14zM390 565h4v1h-4zM394 564h2v1h-2zM396 565h2v1h-2zM398 566h1v1h-1zM399 567h1v1h-1zM400 568h2v1h-2zM402 569h1v1h-1zM403 570h10v1h-10zM413 571h3v1h-3zM416 572h2v1h-2zM418 573h3v1h-3zM421 572h2v1h-2zM423 571h2v1h-2zM425 570h2v1h-2zM427 569h3v1h-3zM430 570h4v1h-4zM434 571h2v1h-2zM436 570h1v1h-1zM437 569h1v1h-1zM438 568h1v1h-1zM439 567h1v1h-1zM440 566h1v1h-1zM441 565h1v1h-1zM442 564h1v1h-1zM443 563h2v1h-2zM445 562h3v1h-3zM448 561h2v1h-2zM450 560h14v1h-14zM464 561h5v1h-5zM469 560h3v1h-3zM472 559h2v1h-2zM474 558h3v1h-3zM477 557h2v1h-2zM479 556h2v1h-2zM481 555h2v1h-2zM483 554h1v1h-1zM484 553h1v1h-1zM485 551h1v2h-1zM486 550h1v1h-1zM487 549h1v1h-1zM488 548h1v1h-1zM489 546h1v2h-1zM490 545h1v1h-1zM491 544h2v1h-2zM493 543h3v1h-3zM496 542h2v1h-2zM498 541h3v1h-3zM501 540h3v1h-3zM504 539h2v1h-2zM506 538h6v1h-6zM512 537h4v1h-4zM516 538h1v1h-1zM517 539h1v2h-1zM518 541h1v1h-1zM519 542h1v1h-1zM520 543h1v1h-1zM521 544h1v2h-1zM522 546h1v1h-1zM523 547h5v1h-5zM528 546h6v1h-6zM534 547h4v1h-4zM538 548h12v1h-12zM550 547h4v1h-4zM554 546h6v1h-6zM560 545h4v1h-4zM564 544h2v1h-2zM566 543h2v1h-2zM568 542h1v1h-1zM569 541h2v1h-2zM571 540h2v1h-2zM573 539h3v1h-3zM576 538h2v1h-2zM578 537h3v1h-3zM581 538h2v1h-2zM583 539h2v1h-2zM585 540h2v1h-2zM587 541h1v1h-1zM588 542h1v2h-1zM589 544h1v1h-1zM590 545h1v1h-1zM591 546h1v2h-1zM592 548h1v1h-1zM593 549h1v1h-1zM594 550h1v2h-1zM595 552h5v1h-5zM600 551h4v1h-4zM604 552h2v1h-2zM606 553h2v1h-2zM608 554h1v1h-1zM609 555h2v1h-2zM611 556h2v1h-2zM613 555h2v1h-2zM615 554h2v1h-2zM617 553h2v1h-2zM619 552h1v1h-1zM620 553h2v1h-2zM622 554h2v1h-2zM624 555h1v1h-1zM625 556h2v1h-2zM627 557h1v1h-1zM628 556h1v1h-1zM629 555h1v1h-1zM630 554h2v1h-2zM632 553h1v1h-1zM633 552h1v1h-1zM634 551h1v1h-1zM635 550h1v1h-1zM636 551h1v1h-1zM637 552h1v1h-1zM638 553h2v1h-2zM640 554h1v1h-1zM641 555h1v1h-1zM642 556h1v1h-1zM643 557h2v1h-2zM645 558h2v1h-2zM647 559h2v1h-2zM649 560h2v1h-2zM651 561h5v1h-5zM656 562h8v1h-8zM664 561h14v1h-14zM678 562h4v1h-4zM682 563h3v1h-3zM685 562h2v1h-2zM687 561h2v1h-2zM689 560h2v1h-2zM691 559h5v1h-5zM696 558h5v1h-5zM701 557h3v1h-3zM704 556h2v1h-2zM706 555h2v1h-2zM708 556h1v1h-1zM709 557h1v1h-1zM710 558h1v1h-1zM711 559h1v1h-1zM712 560h1v1h-1zM713 561h1v1h-1zM714 562h1v1h-1zM715 563h2v1h-2zM717 562h2v1h-2zM719 561h2v1h-2zM721 560h2v1h-2zM723 559h13v1h-13zM736 558h4v1h-4zM740 557h2v1h-2zM742 556h2v1h-2zM744 555h1v1h-1zM745 554h2v1h-2zM747 553h2v1h-2zM749 554h2v1h-2zM751 555h2v1h-2zM753 556h2v1h-2zM755 557h3v1h-3zM758 558h4v1h-4zM762 559h3v1h-3zM765 558h3v1h-3zM768 557h2v1h-2zM770 556h4v1h-4zM774 555h4v1h-4zM778 554h10v1h-10zM788 553h2v1h-2zM790 552h1v1h-1zM791 551h1v1h-1zM792 550h2v1h-2zM794 549h1v1h-1zM795 548h5v1h-5zM800 549h8v1h-8zM808 548h5v1h-5zM813 547h2v1h-2zM815 546h2v1h-2zM817 545h2v1h-2zM819 544h3v1h-3zM822 543h4v1h-4zM826 542h4v1h-4zM830 541h4v1h-4zM834 540h2v1h-2zM836 541h1v1h-1zM837 542h1v1h-1zM838 543h1v1h-1zM839 544h1v1h-1zM840 545h1v1h-1zM841 546h1v1h-1zM842 547h1v1h-1zM843 548h2v1h-2zM845 547h2v1h-2zM847 546h2v1h-2zM849 545h2v1h-2zM851 544h2v1h-2zM853 543h2v1h-2zM855 542h2v1h-2zM857 541h2v1h-2zM859 540h1v1h-1zM860 539h1v1h-1zM861 538h1v1h-1zM862 537h1v1h-1zM863 535h1v2h-1zM864 534h1v1h-1zM865 533h1v1h-1zM866 532h1v1h-1zM867 531h1v1h-1zM868 530h2v1h-2zM870 529h2v1h-2zM872 528h1v1h-1zM873 527h2v1h-2zM875 526h1v1h-1zM876 527h2v1h-2zM878 528h1v1h-1zM879 529h1v1h-1zM880 530h2v1h-2zM882 531h1v1h-1zM883 532h9v1h-9zM892 531h2v1h-2zM894 530h2v1h-2zM896 529h1v1h-1zM897 528h2v1h-2zM899 527h2v1h-2zM901 528h3v1h-3zM904 529h2v1h-2zM906 530h4v1h-4zM910 531h4v1h-4zM914 532h2v1h-2zM916 533h1v1h-1zM917 534h1v2h-1zM918 536h1v1h-1zM919 537h1v1h-1zM920 538h1v1h-1zM921 539h1v2h-1zM922 541h1v1h-1zM923 542h2v1h-2zM925 541h3v1h-3zM928 540h2v1h-2zM930 539h10v1h-10zM940 538h2v1h-2zM942 537h2v1h-2zM944 536h1v1h-1zM945 535h2v1h-2zM947 534h2v1h-2zM949 533h3v1h-3zM952 532h2v1h-2zM954 531h3v1h-3zM957 530h3v1h-3zM960 529h2v1h-2zM962 528h2v1h-2zM964 529h2v1h-2zM966 530h2v1h-2zM968 531h1v1h-1zM969 532h2v1h-2zM971 533h5v1h-5zM976 532h3v1h-3zM979 532h1v2h-1zM980 534h1v4h-1zM981 538h1v3h-1zM982 541h1v4h-1zM983 545h1v3h-1zM984 548h1v4h-1zM985 552h1v3h-1zM986 555h1v4h-1zM987 559h1v2h-1zM988 560h2v1h-2zM990 559h4v1h-4zM994 558h2v1h-2zM996 557h2v1h-2zM998 556h1v1h-1zM999 555h1v1h-1zM1000 554h2v1h-2zM1002 553h1v1h-1zM1003 552h1v1h-1zM1004 553h2v1h-2zM1006 554h2v1h-2zM1008 555h1v1h-1zM1009 556h2v1h-2zM1011 557h2v1h-2zM1013 556h2v1h-2zM1015 555h2v1h-2zM1017 554h2v1h-2zM1019 553h9v1h-9zM1028 554h2v1h-2zM1030 555h2v1h-2zM1032 556h1v1h-1zM1033 557h2v1h-2zM1035 558h3v1h-3zM1038 557h4v1h-4zM1042 556h4v1h-4zM1046 557h4v1h-4zM1050 558h6v1h-6zM1056 559h8v1h-8zM1064 560h5v1h-5zM1069 559h2v1h-2zM1071 558h2v1h-2zM1073 557h2v1h-2zM1075 556h3v1h-3zM1078 557h4v1h-4zM1082 558h4v1h-4zM1086 557h4v1h-4zM1090 556h4v1h-4zM1094 555h4v1h-4zM1098 554h10v1h-10zM1108 555h2v1h-2zM1110 556h2v1h-2zM1112 557h1v1h-1zM1113 558h2v1h-2zM1115 559h1v1h-1zM1116 560h2v1h-2zM1118 561h2v1h-2zM1120 562h1v1h-1zM1121 563h2v1h-2zM1123 564h3v1h-3zM1126 563h4v1h-4zM1130 562h12v1h-12zM1142 563h4v1h-4zM1146 564h4v1h-4zM1150 563h4v1h-4zM1154 562h12v1h-12zM1166 563h4v1h-4zM1170 564h3v1h-3zM1173 563h3v1h-3zM1176 562h2v1h-2zM1178 561h22v1h-22zM1200 562h8v1h-8zM1208 561h4v1h-4z" fill="#1e90ff" shape-rendering="crispEdges"/>
<path d="M3 519h1v1h-1zM4 520h1v2h-1zM5 522h1v2h-1zM6 524h1v2h-1zM7 526h1v1h-1zM8 527h1v2h-1zM9 529h1v2h-1zM10 531h1v2h-1zM11 533h1v1h-1zM12 532h2v1h-2zM14 531h2v1h-2zM16 530h1v1h-1zM17 529h2v1h-2zM19 528h1v1h-1zM20 527h2v1h-2zM22 526h2v1h-2zM24 525h1v1h-1zM25 524h2v1h-2zM27 523h1v5h-1zM28 528h1v8h-1zM29 536h1v8h-1zM30 544h1v8h-1zM31 552h1v9h-1zM32 561h1v8h-1zM33 569h1v8h-1zM34 577h1v8h-1zM35 585h1v5h-1zM36 589h1v1h-1zM37 590h3v1h-3zM40 591h2v1h-2zM42 592h2v1h-2zM44 593h1v1h-1zM45 594h1v1h-1zM46 595h2v1h-2zM48 596h1v1h-1zM49 597h1v1h-1zM50 598h1v1h-1zM51 599h1v1h-1zM52 600h1v2h-1zM53 602h1v2h-1zM54 604h1v2h-1zM55 606h1v2h-1zM56 608h1v2h-1zM57 610h1v2h-1zM58 612h1v2h-1zM59 614h1v1h-1zM60 613h2v1h-2zM62 612h2v1h-2zM64 611h1v1h-1zM65 610h2v1h-2zM67 607h1v3h-1zM68 602h1v5h-1zM69 597h1v5h-1zM70 592h1v5h-1zM71 588h1v4h-1zM72 583h1v5h-1zM73 578h1v5h-1zM74 573h1v5h-1zM75 570h1v3h-1zM76 570h7v1h-7zM83 569h1v2h-1zM84 567h1v2h-1zM85 565h1v2h-1zM86 563h1v2h-1zM87 561h1v2h-1zM88 559h1v2h-1zM89 557h1v2h-1zM90 555h1v2h-1zM91 554h1v1h-1zM92 555h1v1h-1zM93 556h1v2h-1zM94 558h1v1h-1zM95 559h1v1h-1zM96 560h1v1h-1zM97 561h1v2h-1zM98 563h1v1h-1zM99 564h1v2h-1zM100 566h1v3h-1zM101 569h1v3h-1zM102 572h1v3h-1zM103 575h1v4h-1zM104 579h1v3h-1zM105 582h1v3h-1zM106 585h1v3h-1zM107 588h1v2h-1zM108 590h2v1h-2zM110 591h1v1h-1zM111 592h1v1h-1zM112 593h2v1h-2zM114 594h1v1h-1zM115 595h1v1h-1zM116 596h2v1h-2zM118 597h1v1h-1zM119 598h1v1h-1zM120 599h2v1h-2zM122 600h1v1h-1zM123 601h1v1h-1zM124 602h1v2h-1zM125 604h1v2h-1zM126 606h1v1h-1zM127 607h1v2h-1zM128 609h1v1h-1zM129 610h1v2h-1zM130 612h1v2h-1zM131 614h2v1h-2zM133 615h3v1h-3zM136 616h2v1h-2zM138 617h6v1h-6zM144 618h8v1h-8zM152 619h12v1h-12zM164 618h1v1h-1zM165 617h1v1h-1zM166 616h1v1h-1zM167 615h1v1h-1zM168 614h1v1h-1zM169 613h1v1h-1zM170 612h1v1h-1zM171 610h1v2h-1zM172 606h1v4h-1zM173 602h1v4h-1zM174 598h1v4h-1zM175 595h1v3h-1zM176 591h1v4h-1zM177 587h1v4h-1zM178 583h1v4h-1zM179 580h1v3h-1zM180 576h1v4h-1zM181 573h1v3h-1zM182 569h1v4h-1zM183 566h1v3h-1zM184 562h1v4h-1zM185 559h1v3h-1zM186 555h1v4h-1zM187 552h1v3h-1zM188 550h1v2h-1zM189 548h1v2h-1zM190 546h1v2h-1zM191 543h1v3h-1zM192 541h1v2h-1zM193 539h1v2h-1zM194 537h1v2h-1zM195 535h1v2h-1zM196 535h2v1h-2zM198 534h4v1h-4zM202 533h3v1h-3zM205 534h2v1h-2zM207 535h2v1h-2zM209 536h2v1h-2zM211 537h2v1h-2zM213 536h3v1h-3zM216 535h2v1h-2zM218 534h1v1h-1zM219 534h1v3h-1zM220 537h1v5h-1zM221 542h1v4h-1zM222 546h1v5h-1zM223 551h1v5h-1zM224 556h1v5h-1zM225 561h1v4h-1zM226 565h1v5h-1zM227 570h1v3h-1zM228 573h2v1h-2zM230 574h2v1h-2zM232 575h1v1h-1zM233 576h2v1h-2zM235 577h8v1h-8zM243 575h1v3h-1zM244 570h1v5h-1zM245 566h1v4h-1zM246 561h1v5h-1zM247 556h1v5h-1zM248 551h1v5h-1zM249 547h1v4h-1zM250 542h1v5h-1zM251 539h1v3h-1zM252 540h1v1h-1zM253 541h1v2h-1zM254 543h1v1h-1zM255 544h1v1h-1zM256 545h1v1h-1zM257 546h1v2h-1zM258 548h1v1h-1zM259 548h1v2h-1zM260 546h1v2h-1zM261 543h1v3h-1zM262 540h1v3h-1zM263 538h1v2h-1zM264 535h1v3h-1zM265 532h1v3h-1zM266 530h1v2h-1zM267 528h1v2h-1zM268 528h8v1h-8zM276 529h1v2h-1zM277 531h1v1h-1zM278 532h1v2h-1zM279 534h1v1h-1zM280 535h1v2h-1zM281 537h1v1h-1zM282 538h1v2h-1zM283 540h1v1h-1zM284 538h1v2h-1zM285 536h1v2h-1zM286 534h1v2h-1zM287 533h1v1h-1zM288 531h1v2h-1zM289 529h1v2h-1zM290 527h1v2h-1zM291 526h5v1h-5zM296 527h4v1h-4zM300 526h1v1h-1zM301 525h1v1h-1zM302 524h2v1h-2zM304 523h1v1h-1zM305 522h1v1h-1zM306 521h1v1h-1zM307 520h1v3h-1zM308 523h1v4h-1zM309 527h1v5h-1zM310 532h1v5h-1zM311 537h1v4h-1zM312 541h1v5h-1zM313 546h1v5h-1zM314 551h1v4h-1zM315 555h1v3h-1zM316 557h1v1h-1zM317 556h2v1h-2zM319 555h2v1h-2zM321 554h2v1h-2zM323 553h1v2h-1zM324 555h1v4h-1zM325 559h1v4h-1zM326 563h1v4h-1zM327 567h1v4h-1zM328 571h1v4h-1zM329 575h1v4h-1zM330 579h1v4h-1zM331 583h1v2h-1zM332 582h1v2h-1zM333 580h1v2h-1zM334 578h1v2h-1zM335 576h1v2h-1zM336 574h1v2h-1zM337 572h1v2h-1zM338 570h1v2h-1zM339 569h1v2h-1zM340 571h1v4h-1zM341 575h1v3h-1zM342 578h1v3h-1zM343 581h1v4h-1zM344 585h1v3h-1zM345 588h1v3h-1zM346 591h1v4h-1zM347 595h1v2h-1zM348 592h1v3h-1zM349 590h1v2h-1zM350 587h1v3h-1zM351 584h1v3h-1zM352 581h1v3h-1zM353 579h1v2h-1zM354 576h1v3h-1zM355 574h1v2h-1zM356 572h1v2h-1zM357 570h1v2h-1zM358 568h1v2h-1zM359 566h1v2h-1zM360 564h1v2h-1zM361 562h1v2h-1zM362 560h1v2h-1zM363 559h2v1h-2zM365 560h2v1h-2zM367 561h2v1h-2zM369 562h2v1h-2zM371 563h2v1h-2zM373 564h2v1h-2zM375 565h2v1h-2zM377 566h2v1h-2zM379 567h1v1h-1zM380 568h1v1h-1zM381 569h1v1h-1zM382 570h2v1h-2zM384 571h1v1h-1zM385 572h1v1h-1zM386 573h1v1h-1zM387 573h1v2h-1zM388 570h1v3h-1zM389 567h1v3h-1zM390 564h1v3h-1zM391 560h1v4h-1zM392 557h1v3h-1zM393 554h1v3h-1zM394 551h1v3h-1zM395 549h1v3h-1zM396 552h1v6h-1zM397 558h1v5h-1zM398 563h1v5h-1zM399 568h1v6h-1zM400 574h1v5h-1zM401 579h1v5h-1zM402 584h1v6h-1zM403 590h1v3h-1zM404 592h4v1h-4zM408 591h4v1h-4zM412 592h1v2h-1zM413 594h1v2h-1zM414 596h1v1h-1zM415 597h1v2h-1zM416 599h1v1h-1zM417 600h1v2h-1zM418 602h1v2h-1zM419 602h1v3h-1zM420 598h1v4h-1zM421 594h1v4h-1zM422 589h1v5h-1zM423 585h1v4h-1zM424 580h1v5h-1zM425 576h1v4h-1zM426 572h1v4h-1zM427 569h1v3h-1zM428 570h1v2h-1zM429 572h1v2h-1zM430 574h1v1h-1zM431 575h1v2h-1zM432 577h1v1h-1zM433 578h1v2h-1zM434 580h1v2h-1zM435 580h1v3h-1zM436 574h1v6h-1zM437 569h1v5h-1zM438 563h1v6h-1zM439 558h1v5h-1zM440 552h1v6h-1zM441 547h1v5h-1zM442 541h1v6h-1zM443 538h1v3h-1zM444 537h2v1h-2zM446 536h2v1h-2zM448 535h1v1h-1zM449 534h2v1h-2zM451 533h9v1h-9zM460 534h1v2h-1zM461 536h1v1h-1zM462 537h1v2h-1zM463 539h1v1h-1zM464 540h1v2h-1zM465 542h1v1h-1zM466 543h1v2h-1zM467 545h1v1h-1zM468 543h1v2h-1zM469 541h1v2h-1zM470 539h1v2h-1zM471 537h1v2h-1zM472 535h1v2h-1zM473 533h1v2h-1zM474 531h1v2h-1zM475 530h1v1h-1zM476 529h1v1h-1zM477 528h1v1h-1zM478 527h1v1h-1zM479 525h1v2h-1zM480 524h1v1h-1zM481 523h1v1h-1zM482 522h1v1h-1zM483 521h1v1h-1zM484 520h2v1h-2zM486 519h2v1h-2zM488 518h1v1h-1zM489 517h2v1h-2zM491 516h5v1h-5zM496 515h19v1h-19zM515 515h1v3h-1zM516 518h1v6h-1zM517 524h1v5h-1zM518 529h1v5h-1zM519 534h1v6h-1zM520 540h1v5h-1zM521 545h1v5h-1zM522 550h1v6h-1zM523 556h1v3h-1zM524 557h2v1h-2zM526 556h2v1h-2zM528 555h1v1h-1zM529 554h2v1h-2zM531 553h1v1h-1zM532 554h1v2h-1zM533 556h1v1h-1zM534 557h1v2h-1zM535 559h1v1h-1zM536 560h1v2h-1zM537 562h1v1h-1zM538 563h1v2h-1zM539 565h3v1h-3zM542 564h4v1h-4zM546 563h1v1h-1zM547 562h1v2h-1zM548 560h1v2h-1zM549 558h1v2h-1zM550 556h1v2h-1zM551 554h1v2h-1zM552 552h1v2h-1zM553 550h1v2h-1zM554 548h1v2h-1zM555 546h1v2h-1zM556 545h1v1h-1zM557 544h1v1h-1zM558 543h1v1h-1zM559 542h1v1h-1zM560 541h1v1h-1zM561 540h1v1h-1zM562 539h1v1h-1zM563 537h1v2h-1zM564 535h1v2h-1zM565 533h1v2h-1zM566 531h1v2h-1zM567 529h1v2h-1zM568 527h1v2h-1zM569 525h1v2h-1zM570 523h1v2h-1zM571 522h2v1h-2zM573 521h2v1h-2zM575 520h2v1h-2zM577 519h2v1h-2zM579 518h1v2h-1zM580 520h1v3h-1zM581 523h1v3h-1zM582 526h1v3h-1zM583 529h1v4h-1zM584 533h1v3h-1zM585 536h1v3h-1zM586 539h1v3h-1zM587 542h1v4h-1zM588 546h1v4h-1zM589 550h1v4h-1zM590 554h1v4h-1zM591 558h1v5h-1zM592 563h1v4h-1zM593 567h1v4h-1zM594 571h1v4h-1zM595 575h1v3h-1zM596 576h2v1h-2zM598 575h2v1h-2zM600 574h1v1h-1zM601 573h2v1h-2zM603 572h1v2h-1zM604 574h1v2h-1zM605 576h1v2h-1zM606 578h1v2h-1zM607 580h1v3h-1zM608 583h1v2h-1zM609 585h1v2h-1zM610 587h1v2h-1zM611 588h1v3h-1zM612 584h1v4h-1zM613 580h1v4h-1zM614 576h1v4h-1zM615 572h1v4h-1zM616 568h1v4h-1zM617 564h1v4h-1zM618 560h1v4h-1zM619 558h1v2h-1zM620 560h1v2h-1zM621 562h1v2h-1zM622 564h1v3h-1zM623 567h1v2h-1zM624 569h1v3h-1zM625 572h1v2h-1zM626 574h1v2h-1zM627 575h1v3h-1zM628 571h1v4h-1zM629 567h1v4h-1zM630 563h1v4h-1zM631 559h1v4h-1zM632 555h1v4h-1zM633 551h1v4h-1zM634 547h1v4h-1zM635 544h1v3h-1zM636 546h1v4h-1zM637 550h1v3h-1zM638 553h1v4h-1zM639 557h1v3h-1zM640 560h1v4h-1zM641 564h1v3h-1zM642 567h1v4h-1zM643 571h1v2h-1zM644 573h1v1h-1zM645 574h1v1h-1zM646 575h1v1h-1zM647 576h1v2h-1zM648 578h1v1h-1zM649 579h1v1h-1zM650 580h1v1h-1zM651 581h1v1h-1zM652 582h2v1h-2zM654 583h2v1h-2zM656 584h1v1h-1zM657 585h2v1h-2zM659 586h1v1h-1zM660 584h1v2h-1zM661 583h1v1h-1zM662 582h1v1h-1zM663 580h1v2h-1zM664 579h1v1h-1zM665 578h1v1h-1zM666 576h1v2h-1zM667 575h1v1h-1zM668 574h2v1h-2zM670 573h1v1h-1zM671 572h1v1h-1zM672 571h2v1h-2zM674 570h1v1h-1zM675 569h1v2h-1zM676 571h1v2h-1zM677 573h1v2h-1zM678 575h1v2h-1zM679 577h1v2h-1zM680 579h1v2h-1zM681 581h1v2h-1zM682 583h1v2h-1zM683 583h1v3h-1zM684 579h1v4h-1zM685 575h1v4h-1zM686 571h1v4h-1zM687 567h1v4h-1zM688 563h1v4h-1zM689 559h1v4h-1zM690 555h1v4h-1zM691 552h1v3h-1zM692 551h1v1h-1zM693 550h1v1h-1zM694 549h1v1h-1zM695 547h1v2h-1zM696 546h1v1h-1zM697 545h1v1h-1zM698 544h1v1h-1zM699 543h1v1h-1zM700 541h1v2h-1zM701 539h1v2h-1zM702 538h1v1h-1zM703 536h1v2h-1zM704 535h1v1h-1zM705 533h1v2h-1zM706 531h1v2h-1zM707 530h1v4h-1zM708 534h1v6h-1zM709 540h1v6h-1zM710 546h1v7h-1zM711 553h1v6h-1zM712 559h1v7h-1zM713 566h1v6h-1zM714 572h1v6h-1zM715 578h1v4h-1zM716 577h1v3h-1zM717 573h1v4h-1zM718 570h1v3h-1zM719 567h1v3h-1zM720 564h1v3h-1zM721 560h1v4h-1zM722 557h1v3h-1zM723 555h1v2h-1zM724 555h2v1h-2zM726 556h4v1h-4zM730 557h2v1h-2zM732 556h2v1h-2zM734 555h1v1h-1zM735 554h1v1h-1zM736 553h2v1h-2zM738 552h1v1h-1zM739 550h1v2h-1zM740 548h1v2h-1zM741 545h1v3h-1zM742 543h1v2h-1zM743 540h1v3h-1zM744 538h1v2h-1zM745 535h1v3h-1zM746 533h1v2h-1zM747 531h1v2h-1zM748 533h1v3h-1zM749 536h1v3h-1zM750 539h1v3h-1zM751 542h1v4h-1zM752 546h1v3h-1zM753 549h1v3h-1zM754 552h1v3h-1zM755 555h1v2h-1zM756 557h1v2h-1zM757 559h1v1h-1zM758 560h1v1h-1zM759 561h1v2h-1zM760 563h1v1h-1zM761 564h1v1h-1zM762 565h1v2h-1zM763 567h1v1h-1zM764 565h1v2h-1zM765 563h1v2h-1zM766 562h1v1h-1zM767 560h1v2h-1zM768 559h1v1h-1zM769 557h1v2h-1zM770 555h1v2h-1zM771 553h1v2h-1zM772 551h1v2h-1zM773 549h1v2h-1zM774 547h1v2h-1zM775 544h1v3h-1zM776 542h1v2h-1zM777 540h1v2h-1zM778 538h1v2h-1zM779 536h1v2h-1zM780 536h8v1h-8zM788 534h1v2h-1zM789 532h1v2h-1zM790 530h1v2h-1zM791 528h1v2h-1zM792 526h1v2h-1zM793 524h1v2h-1zM794 522h1v2h-1zM795 521h1v1h-1zM796 522h1v2h-1zM797 524h1v1h-1zM798 525h1v1h-1zM799 526h1v2h-1zM800 528h1v1h-1zM801 529h1v1h-1zM802 530h1v2h-1zM803 532h2v1h-2zM805 531h3v1h-3zM808 530h2v1h-2zM810 529h2v1h-2zM812 528h1v1h-1zM813 527h1v1h-1zM814 526h1v1h-1zM815 524h1v2h-1zM816 523h1v1h-1zM817 522h1v1h-1zM818 521h1v1h-1zM819 520h3v1h-3zM822 519h4v1h-4zM826 518h6v1h-6zM832 517h3v1h-3zM835 517h1v3h-1zM836 520h1v5h-1zM837 525h1v6h-1zM838 531h1v5h-1zM839 536h1v5h-1zM840 541h1v5h-1zM841 546h1v6h-1zM842 552h1v5h-1zM843 557h1v3h-1zM844 557h1v2h-1zM845 555h1v2h-1zM846 553h1v2h-1zM847 552h1v1h-1zM848 550h1v2h-1zM849 548h1v2h-1zM850 546h1v2h-1zM851 544h1v2h-1zM852 542h1v2h-1zM853 540h1v2h-1zM854 537h1v3h-1zM855 535h1v2h-1zM856 532h1v3h-1zM857 530h1v2h-1zM858 528h1v2h-1zM859 526h1v2h-1zM860 525h1v1h-1zM861 524h1v1h-1zM862 523h1v1h-1zM863 522h1v1h-1zM864 521h1v1h-1zM865 520h1v1h-1zM866 519h1v1h-1zM867 518h2v1h-2zM869 517h3v1h-3zM872 516h2v1h-2zM874 515h1v1h-1zM875 515h1v2h-1zM876 517h1v2h-1zM877 519h1v2h-1zM878 521h1v2h-1zM879 523h1v3h-1zM880 526h1v2h-1zM881 528h1v2h-1zM882 530h1v2h-1zM883 532h1v2h-1zM884 533h2v1h-2zM886 532h4v1h-4zM890 531h2v1h-2zM892 529h1v2h-1zM893 528h1v1h-1zM894 527h1v1h-1zM895 525h1v2h-1zM896 524h1v1h-1zM897 523h1v1h-1zM898 521h1v2h-1zM899 520h1v1h-1zM900 521h1v1h-1zM901 522h1v1h-1zM902 523h1v1h-1zM903 524h1v1h-1zM904 525h1v1h-1zM905 526h1v1h-1zM906 527h1v1h-1zM907 528h1v1h-1zM908 529h1v1h-1zM909 530h1v1h-1zM910 531h2v1h-2zM912 532h1v1h-1zM913 533h1v1h-1zM914 534h1v1h-1zM915 535h1v3h-1zM916 538h1v4h-1zM917 542h1v5h-1zM918 547h1v5h-1zM919 552h1v4h-1zM920 556h1v5h-1zM921 561h1v5h-1zM922 566h1v4h-1zM923 570h1v3h-1zM924 568h1v3h-1zM925 565h1v3h-1zM926 562h1v3h-1zM927 558h1v4h-1zM928 555h1v3h-1zM929 552h1v3h-1zM930 549h1v3h-1zM931 547h1v2h-1zM932 547h1v1h-1zM933 548h3v1h-3zM936 549h2v1h-2zM938 550h1v1h-1zM939 549h1v2h-1zM940 546h1v3h-1zM941 543h1v3h-1zM942 540h1v3h-1zM943 537h1v3h-1zM944 534h1v3h-1zM945 531h1v3h-1zM946 528h1v3h-1zM947 526h1v2h-1zM948 526h1v1h-1zM949 525h2v1h-2zM951 524h2v1h-2zM953 523h2v1h-2zM955 522h2v1h-2zM957 521h2v1h-2zM959 520h2v1h-2zM961 519h2v1h-2zM963 518h1v2h-1zM964 520h1v2h-1zM965 522h1v2h-1zM966 524h1v3h-1zM967 527h1v2h-1zM968 529h1v3h-1zM969 532h1v2h-1zM970 534h1v2h-1zM971 536h1v2h-1zM972 536h1v1h-1zM973 535h1v1h-1zM974 534h2v1h-2zM976 533h1v1h-1zM977 532h1v1h-1zM978 531h1v1h-1zM979 530h1v4h-1zM980 534h1v8h-1zM981 542h1v8h-1zM982 550h1v8h-1zM983 558h1v7h-1zM984 565h1v8h-1zM985 573h1v8h-1zM986 581h1v8h-1zM987 589h1v4h-1zM988 590h1v2h-1zM989 589h1v1h-1zM990 587h1v2h-1zM991 586h1v1h-1zM992 584h1v2h-1zM993 583h1v1h-1zM994 581h1v2h-1zM995 579h1v2h-1zM996 576h1v3h-1zM997 573h1v3h-1zM998 570h1v3h-1zM999 566h1v4h-1zM1000 563h1v3h-1zM1001 560h1v3h-1zM1002 557h1v3h-1zM1003 555h1v2h-1zM1004 556h1v2h-1zM1005 558h1v2h-1zM1006 560h1v2h-1zM1007 562h1v2h-1zM1008 564h1v2h-1zM1009 566h1v2h-1zM1010 568h1v2h-1zM1011 570h1v1h-1zM1012 568h1v2h-1zM1013 566h1v2h-1zM1014 564h1v2h-1zM1015 563h1v1h-1zM1016 561h1v2h-1zM1017 559h1v2h-1zM1018 557h1v2h-1zM1019 556h2v1h-2zM1021 555h3v1h-3zM1024 554h2v1h-2zM1026 553h1v1h-1zM1027 553h1v2h-1zM1028 555h1v3h-1zM1029 558h1v2h-1zM1030 560h1v3h-1zM1031 563h1v3h-1zM1032 566h1v3h-1zM1033 569h1v2h-1zM1034 571h1v3h-1zM1035 574h1v2h-1zM1036 573h1v2h-1zM1037 571h1v2h-1zM1038 570h1v1h-1zM1039 568h1v2h-1zM1040 567h1v1h-1zM1041 565h1v2h-1zM1042 563h1v2h-1zM1043 562h1v1h-1zM1044 563h1v2h-1zM1045 565h1v2h-1zM1046 567h1v1h-1zM1047 568h1v2h-1zM1048 570h1v1h-1zM1049 571h1v2h-1zM1050 573h1v2h-1zM1051 575h2v1h-2zM1053 576h3v1h-3zM1056 577h2v1h-2zM1058 578h3v1h-3zM1061 579h2v1h-2zM1063 580h2v1h-2zM1065 581h2v1h-2zM1067 580h1v3h-1zM1068 575h1v5h-1zM1069 570h1v5h-1zM1070 565h1v5h-1zM1071 561h1v4h-1zM1072 556h1v5h-1zM1073 551h1v5h-1zM1074 546h1v5h-1zM1075 543h1v3h-1zM1076 545h1v3h-1zM1077 548h1v3h-1zM1078 551h1v3h-1zM1079 554h1v2h-1zM1080 556h1v3h-1zM1081 559h1v3h-1zM1082 562h1v3h-1zM1083 565h1v2h-1zM1084 564h1v2h-1zM1085 562h1v2h-1zM1086 560h1v2h-1zM1087 558h1v2h-1zM1088 556h1v2h-1zM1089 554h1v2h-1zM1090 552h1v2h-1zM1091 551h1v1h-1zM1092 549h1v2h-1zM1093 547h1v2h-1zM1094 545h1v2h-1zM1095 543h1v2h-1zM1096 541h1v2h-1zM1097 539h1v2h-1zM1098 537h1v2h-1zM1099 536h5v1h-5zM1104 537h3v1h-3zM1107 537h1v3h-1zM1108 540h1v5h-1zM1109 545h1v4h-1zM1110 549h1v5h-1zM1111 554h1v5h-1zM1112 559h1v5h-1zM1113 564h1v4h-1zM1114 568h1v5h-1zM1115 573h1v4h-1zM1116 577h1v2h-1zM1117 579h1v3h-1zM1118 582h1v3h-1zM1119 585h1v2h-1zM1120 587h1v3h-1zM1121 590h1v3h-1zM1122 593h1v2h-1zM1123 595h1v2h-1zM1124 593h1v2h-1zM1125 591h1v2h-1zM1126 589h1v2h-1zM1127 587h1v2h-1zM1128 585h1v2h-1zM1129 583h1v2h-1zM1130 581h1v2h-1zM1131 579h1v2h-1zM1132 579h4v1h-4zM1136 580h4v1h-4zM1140 581h1v1h-1zM1141 582h1v1h-1zM1142 583h1v1h-1zM1143 584h1v2h-1zM1144 586h1v1h-1zM1145 587h1v1h-1zM1146 588h1v1h-1zM1147 588h1v2h-1zM1148 585h1v3h-1zM1149 582h1v3h-1zM1150 579h1v3h-1zM1151 575h1v4h-1zM1152 572h1v3h-1zM1153 569h1v3h-1zM1154 566h1v3h-1zM1155 564h1v2h-1zM1156 565h1v1h-1zM1157 566h1v1h-1zM1158 567h1v1h-1zM1159 568h1v1h-1zM1160 569h1v1h-1zM1161 570h1v1h-1zM1162 571h1v1h-1zM1163 572h1v1h-1zM1164 573h1v2h-1zM1165 575h1v1h-1zM1166 576h1v1h-1zM1167 577h1v2h-1zM1168 579h1v1h-1zM1169 580h1v1h-1zM1170 581h1v2h-1zM1171 581h1v3h-1zM1172 577h1v4h-1zM1173 573h1v4h-1zM1174 569h1v4h-1zM1175 564h1v5h-1zM1176 560h1v4h-1zM1177 556h1v4h-1zM1178 552h1v4h-1zM1179 549h1v3h-1zM1180 549h9v1h-9zM1189 548h3v1h-3zM1192 547h2v1h-2zM1194 546h1v1h-1zM1195 546h1v2h-1zM1196 548h1v3h-1zM1197 551h1v3h-1zM1198 554h1v3h-1zM1199 557h1v3h-1zM1200 560h1v3h-1zM1201 563h1v3h-1zM1202 566h1v3h-1zM1203 569h1v2h-1zM1204 568h1v2h-1zM1205 566h1v2h-1zM1206 565h1v1h-1zM1207 563h1v2h-1zM1208 562h1v1h-1zM1209 560h1v2h-1zM1210 558h1v2h-1zM1211 557h1v1h-1z" fill="#ffffff" shape-rendering="crispEdges"/>
<path d="M3 632h3v1h-3zM6 631h4v1h-4zM10 630h4v1h-4zM14 631h4v1h-4zM18 632h3v1h-3zM21 633h3v1h-3zM24 634h2v1h-2zM26 635h1v1h-1zM27 635h1v2h-1zM28 637h1v2h-1zM29 639h1v2h-1zM30 641h1v2h-1zM31 643h1v2h-1zM32 645h1v2h-1zM33 647h1v2h-1zM34 649h1v2h-1zM35 651h1v2h-1zM36 653h1v2h-1zM37 655h1v2h-1zM38 657h1v2h-1zM39 659h1v3h-1zM40 662h1v2h-1zM41 664h1v2h-1zM42 666h1v2h-1zM43 668h1v3h-1zM44 671h1v2h-1zM45 673h1v2h-1zM46 675h1v3h-1zM47 678h1v2h-1zM48 680h1v3h-1zM49 683h1v2h-1zM50 685h1v2h-1zM51 687h1v2h-1zM52 689h1v1h-1zM53 690h1v1h-1zM54 691h1v1h-1zM55 692h1v1h-1zM56 693h1v1h-1zM57 694h1v1h-1zM58 695h1v1h-1zM59 696h5v1h-5zM64 697h4v1h-4zM68 696h2v1h-2zM70 695h2v1h-2zM72 694h1v1h-1zM73 693h2v1h-2zM75 692h1v1h-1zM76 691h2v1h-2zM78 690h1v1h-1zM79 689h1v1h-1zM80 688h2v1h-2zM82 687h1v1h-1zM83 686h1v1h-1zM84 685h1v1h-1zM85 684h1v1h-1zM86 683h1v1h-1zM87 682h1v1h-1zM88 681h1v1h-1zM89 680h1v1h-1zM90 679h1v1h-1zM91 678h2v1h-2zM93 677h3v1h-3zM96 676h2v1h-2zM98 675h6v1h-6zM104 674h5v1h-5zM109 675h2v1h-2zM111 676h2v1h-2zM113 677h2v1h-2zM115 678h1v1h-1zM116 679h2v1h-2zM118 680h1v1h-1zM119 681h1v1h-1zM120 682h2v1h-2zM122 683h1v1h-1zM123 684h1v1h-1zM124 685h2v1h-2zM126 686h2v1h-2zM128 687h1v1h-1zM129 688h2v1h-2zM131 689h1v1h-1zM132 690h1v1h-1zM133 691h1v1h-1zM134 692h2v1h-2zM136 693h1v1h-1zM137 694h1v1h-1zM138 695h1v1h-1zM139 696h5v1h-5zM144 695h14v1h-14zM158 696h4v1h-4zM162 697h3v1h-3zM165 698h3v1h-3zM168 699h2v1h-2zM170 700h6v1h-6zM176 699h4v1h-4zM180 698h1v1h-1zM181 697h1v1h-1zM182 696h2v1h-2zM184 695h1v1h-1zM185 694h1v1h-1zM186 693h1v1h-1zM187 692h1v1h-1zM188 691h1v1h-1zM189 689h1v2h-1zM190 688h1v1h-1zM191 687h1v1h-1zM192 686h1v1h-1zM193 684h1v2h-1zM194 683h1v1h-1zM195 682h1v1h-1zM196 680h1v2h-1zM197 678h1v2h-1zM198 677h1v1h-1zM199 675h1v2h-1zM200 674h1v1h-1zM201 672h1v2h-1zM202 670h1v2h-1zM203 669h1v1h-1zM204 667h1v2h-1zM205 665h1v2h-1zM206 663h1v2h-1zM207 662h1v1h-1zM208 660h1v2h-1zM209 658h1v2h-1zM210 656h1v2h-1zM211 655h1v1h-1zM212 653h1v2h-1zM213 652h1v1h-1zM214 650h1v2h-1zM215 649h1v1h-1zM216 647h1v2h-1zM217 646h1v1h-1zM218 644h1v2h-1zM219 643h2v1h-2zM221 642h2v1h-2zM223 641h2v1h-2zM225 640h2v1h-2zM227 639h9v1h-9zM236 640h2v1h-2zM238 641h2v1h-2zM240 642h1v1h-1zM241 643h2v1h-2zM243 644h2v1h-2zM245 643h3v1h-3zM248 642h2v1h-2zM250 641h6v1h-6zM256 640h4v1h-4zM260 639h2v1h-2zM262 638h1v1h-1zM263 637h1v1h-1zM264 636h2v1h-2zM266 635h1v1h-1zM267 634h1v1h-1zM268 635h2v1h-2zM270 636h2v1h-2zM272 637h1v1h-1zM273 638h2v1h-2zM275 639h1v1h-1zM276 640h2v1h-2zM278 641h2v1h-2zM280 642h1v1h-1zM281 643h2v1h-2zM283 644h9v1h-9zM292 643h1v1h-1zM293 642h1v1h-1zM294 641h2v1h-2zM296 640h1v1h-1zM297 639h1v1h-1zM298 638h1v1h-1zM299 637h1v1h-1zM300 636h1v1h-1zM301 635h1v1h-1zM302 634h2v1h-2zM304 633h1v1h-1zM305 632h1v1h-1zM306 631h1v1h-1zM307 630h3v1h-3zM310 631h4v1h-4zM314 632h3v1h-3zM317 633h3v1h-3zM320 634h2v1h-2zM322 635h2v1h-2zM324 636h1v1h-1zM325 637h1v1h-1zM326 638h1v1h-1zM327 639h1v2h-1zM328 641h1v1h-1zM329 642h1v1h-1zM330 643h1v1h-1zM331 644h1v1h-1zM332 645h1v1h-1zM333 646h1v1h-1zM334 647h1v1h-1zM335 648h1v1h-1zM336 649h1v1h-1zM337 650h1v1h-1zM338 651h1v1h-1zM339 652h1v2h-1zM340 654h1v2h-1zM341 656h1v2h-1zM342 658h1v2h-1zM343 660h1v2h-1zM344 662h1v2h-1zM345 664h1v2h-1zM346 666h1v2h-1zM347 668h1v2h-1zM348 670h2v1h-2zM350 671h1v1h-1zM351 672h1v1h-1zM352 673h2v1h-2zM354 674h1v1h-1zM355 675h2v1h-2zM357 674h3v1h-3zM360 673h2v1h-2zM362 672h2v1h-2zM364 671h1v1h-1zM365 670h1v1h-1zM366 669h2v1h-2zM368 668h1v1h-1zM369 667h1v1h-1zM370 666h1v1h-1zM371 665h2v1h-2zM373 664h3v1h-3zM376 663h2v1h-2zM378 662h10v1h-10zM388 661h2v1h-2zM390 660h1v1h-1zM391 659h1v1h-1zM392 658h2v1h-2zM394 657h1v1h-1zM395 656h3v1h-3zM398 657h4v1h-4zM402 658h3v1h-3zM405 659h3v1h-3zM408 660h2v1h-2zM410 661h1v1h-1zM411 661h1v2h-1zM412 663h1v2h-1zM413 665h1v2h-1zM414 667h1v2h-1zM415 669h1v2h-1zM416 671h1v2h-1zM417 673h1v2h-1zM418 675h1v2h-1zM419 677h1v2h-1zM420 678h2v1h-2zM422 679h4v1h-4zM426 680h2v1h-2zM428 681h2v1h-2zM430 682h1v1h-1zM431 683h1v1h-1zM432 684h2v1h-2zM434 685h1v1h-1zM435 685h1v2h-1zM436 683h1v2h-1zM437 681h1v2h-1zM438 679h1v2h-1zM439 677h1v2h-1zM440 675h1v2h-1zM441 673h1v2h-1zM442 671h1v2h-1zM443 668h1v3h-1zM444 666h1v2h-1zM445 664h1v2h-1zM446 662h1v2h-1zM447 660h1v2h-1zM448 658h1v2h-1zM449 656h1v2h-1zM450 654h1v2h-1zM451 652h1v2h-1zM452 650h1v2h-1zM453 648h1v2h-1zM454 646h1v2h-1zM455 644h1v2h-1zM456 642h1v2h-1zM457 640h1v2h-1zM458 638h1v2h-1zM459 637h11v1h-11zM470 636h4v1h-4zM474 635h2v1h-2zM476 634h2v1h-2zM478 633h2v1h-2zM480 632h1v1h-1zM481 631h2v1h-2zM483 630h2v1h-2zM485 629h3v1h-3zM488 628h2v1h-2zM490 627h2v1h-2zM492 628h1v1h-1zM493 629h1v1h-1zM494 630h2v1h-2zM496 631h1v1h-1zM497 632h1v1h-1zM498 633h1v1h-1zM499 634h13v1h-13zM512 633h13v1h-13zM525 634h3v1h-3zM528 635h2v1h-2zM530 636h2v1h-2zM532 637h2v1h-2zM534 638h1v1h-1zM535 639h1v1h-1zM536 640h2v1h-2zM538 641h1v1h-1zM539 642h13v1h-13zM552 643h12v1h-12zM564 642h2v1h-2zM566 641h2v1h-2zM568 640h1v1h-1zM569 639h2v1h-2zM571 638h1v1h-1zM572 637h2v1h-2zM574 636h1v1h-1zM575 635h1v1h-1zM576 634h2v1h-2zM578 633h1v1h-1zM579 632h5v1h-5zM584 631h4v1h-4zM588 632h1v2h-1zM589 634h1v1h-1zM590 635h1v2h-1zM591 637h1v1h-1zM592 638h1v2h-1zM593 640h1v1h-1zM594 641h1v2h-1zM595 643h1v1h-1zM596 644h1v1h-1zM597 645h1v2h-1zM598 647h1v1h-1zM599 648h1v1h-1zM600 649h1v1h-1zM601 650h1v2h-1zM602 652h1v1h-1zM603 653h1v1h-1zM604 654h1v2h-1zM605 656h1v2h-1zM606 658h1v1h-1zM607 659h1v2h-1zM608 661h1v1h-1zM609 662h1v2h-1zM610 664h1v2h-1zM611 666h5v1h-5zM616 665h4v1h-4zM620 666h2v1h-2zM622 667h1v1h-1zM623 668h1v1h-1zM624 669h2v1h-2zM626 670h1v1h-1zM627 671h1v1h-1zM628 670h1v1h-1zM629 668h1v2h-1zM630 667h1v1h-1zM631 666h1v1h-1zM632 665h1v1h-1zM633 663h1v2h-1zM634 662h1v1h-1zM635 661h1v1h-1zM636 662h2v1h-2zM638 663h1v1h-1zM639 664h1v1h-1zM640 665h2v1h-2zM642 666h1v1h-1zM643 667h5v1h-5zM648 668h4v1h-4zM652 669h1v2h-1zM653 671h1v2h-1zM654 673h1v1h-1zM655 674h1v2h-1zM656 676h1v1h-1zM657 677h1v2h-1zM658 679h1v2h-1zM659 681h5v1h-5zM664 680h4v1h-4zM668 679h2v1h-2zM670 678h1v1h-1zM671 677h1v1h-1zM672 676h2v1h-2zM674 675h1v1h-1zM675 674h10v1h-10zM685 673h3v1h-3zM688 672h2v1h-2zM690 671h2v1h-2zM692 670h2v1h-2zM694 669h2v1h-2zM696 668h1v1h-1zM697 667h2v1h-2zM699 666h1v1h-1zM700 664h1v2h-1zM701 662h1v2h-1zM702 661h1v1h-1zM703 659h1v2h-1zM704 658h1v1h-1zM705 656h1v2h-1zM706 654h1v2h-1zM707 653h5v1h-5zM712 654h5v1h-5zM717 653h2v1h-2zM719 652h2v1h-2zM721 651h2v1h-2zM723 650h1v1h-1zM724 651h2v1h-2zM726 652h2v1h-2zM728 653h1v1h-1zM729 654h2v1h-2zM731 655h1v1h-1zM732 654h1v1h-1zM733 653h1v1h-1zM734 652h1v1h-1zM735 651h1v1h-1zM736 650h1v1h-1zM737 649h1v1h-1zM738 648h1v1h-1zM739 647h1v1h-1zM740 646h2v1h-2zM742 645h2v1h-2zM744 644h1v1h-1zM745 643h2v1h-2zM747 642h3v1h-3zM750 643h4v1h-4zM754 644h2v1h-2zM756 645h2v1h-2zM758 646h2v1h-2zM760 647h1v1h-1zM761 648h2v1h-2zM763 649h1v1h-1zM764 650h1v1h-1zM765 651h1v1h-1zM766 652h1v1h-1zM767 653h1v1h-1zM768 654h1v1h-1zM769 655h1v1h-1zM770 656h1v1h-1zM771 657h1v1h-1zM772 656h2v1h-2zM774 655h1v1h-1zM775 654h1v1h-1zM776 653h2v1h-2zM778 652h1v1h-1zM779 651h1v1h-1zM780 650h1v1h-1zM781 649h1v1h-1zM782 648h1v1h-1zM783 647h1v1h-1zM784 646h1v1h-1zM785 645h1v1h-1zM786 644h1v1h-1zM787 643h1v1h-1zM788 642h1v1h-1zM789 641h1v1h-1zM790 640h1v1h-1zM791 638h1v2h-1zM792 637h1v1h-1zM793 636h1v1h-1zM794 635h1v1h-1zM795 634h2v1h-2zM797 635h3v1h-3zM800 636h2v1h-2zM802 637h4v1h-4zM806 638h4v1h-4zM810 639h2v1h-2zM812 640h2v1h-2zM814 641h2v1h-2zM816 642h1v1h-1zM817 643h2v1h-2zM819 644h1v1h-1zM820 643h2v1h-2zM822 642h2v1h-2zM824 641h1v1h-1zM825 640h2v1h-2zM827 639h1v1h-1zM828 638h2v1h-2zM830 637h1v1h-1zM831 636h1v1h-1zM832 635h2v1h-2zM834 634h1v1h-1zM835 633h13v1h-13zM848 632h12v1h-12zM860 631h2v1h-2zM862 630h2v1h-2zM864 629h1v1h-1zM865 628h2v1h-2zM867 627h3v1h-3zM870 626h4v1h-4zM874 625h3v1h-3zM877 626h3v1h-3zM880 627h2v1h-2zM882 628h3v1h-3zM885 629h3v1h-3zM888 630h2v1h-2zM890 631h6v1h-6zM896 630h4v1h-4zM900 631h2v1h-2zM902 632h2v1h-2zM904 633h1v1h-1zM905 634h2v1h-2zM907 635h2v1h-2zM909 636h2v1h-2zM911 637h2v1h-2zM913 638h2v1h-2zM915 639h1v1h-1zM916 640h1v1h-1zM917 641h1v2h-1zM918 643h1v1h-1zM919 644h1v1h-1zM920 645h1v1h-1zM921 646h1v2h-1zM922 648h1v1h-1zM923 649h5v1h-5zM928 650h5v1h-5zM933 651h3v1h-3zM936 652h2v1h-2zM938 653h2v1h-2zM940 652h1v1h-1zM941 651h1v1h-1zM942 650h2v1h-2zM944 649h1v1h-1zM945 648h1v1h-1zM946 647h1v1h-1zM947 646h1v1h-1zM948 645h1v1h-1zM949 644h1v1h-1zM950 643h1v1h-1zM951 641h1v2h-1zM952 640h1v1h-1zM953 639h1v1h-1zM954 638h1v1h-1zM955 637h1v1h-1zM956 636h1v1h-1zM957 634h1v2h-1zM958 633h1v1h-1zM959 632h1v1h-1zM960 631h1v1h-1zM961 629h1v2h-1zM962 628h1v1h-1zM963 627h2v1h-2zM965 628h2v1h-2zM967 629h2v1h-2zM969 630h2v1h-2zM971 631h3v1h-3zM974 632h4v1h-4zM978 633h1v1h-1zM979 633h1v2h-1zM980 635h1v2h-1zM981 637h1v2h-1zM982 639h1v2h-1zM983 641h1v2h-1zM984 643h1v2h-1zM985 645h1v2h-1zM986 647h1v2h-1zM987 649h1v2h-1zM988 651h1v2h-1zM989 653h1v2h-1zM990 655h1v2h-1zM991 657h1v1h-1zM992 658h1v2h-1zM993 660h1v2h-1zM994 662h1v2h-1zM995 664h1v1h-1zM996 665h1v1h-1zM997 666h1v1h-1zM998 667h1v1h-1zM999 668h1v2h-1zM1000 670h1v1h-1zM1001 671h1v1h-1zM1002 672h1v1h-1zM1003 673h1v1h-1zM1004 672h1v1h-1zM1005 671h1v1h-1zM1006 670h2v1h-2zM1008 669h1v1h-1zM1009 668h1v1h-1zM1010 667h1v1h-1zM1011 666h1v1h-1zM1012 665h1v1h-1zM1013 664h1v1h-1zM1014 663h2v1h-2zM1016 662h1v1h-1zM1017 661h1v1h-1zM1018 660h1v1h-1zM1019 659h5v1h-5zM1024 658h8v1h-8zM1032 657h13v1h-13zM1045 658h3v1h-3zM1048 659h2v1h-2zM1050 660h3v1h-3zM1053 659h2v1h-2zM1055 658h2v1h-2zM1057 657h2v1h-2zM1059 656h1v1h-1zM1060 657h2v1h-2zM1062 658h2v1h-2zM1064 659h1v1h-1zM1065 660h2v1h-2zM1067 661h5v1h-5zM1072 660h4v1h-4zM1076 661h1v1h-1zM1077 662h1v1h-1zM1078 663h2v1h-2zM1080 664h1v1h-1zM1081 665h1v1h-1zM1082 666h1v1h-1zM1083 667h1v1h-1zM1084 666h1v1h-1zM1085 665h1v1h-1zM1086 664h1v1h-1zM1087 663h1v1h-1zM1088 662h1v1h-1zM1089 661h1v1h-1zM1090 660h1v1h-1zM1091 659h1v1h-1zM1092 658h2v1h-2zM1094 657h1v1h-1zM1095 656h1v1h-1zM1096 655h2v1h-2zM1098 654h1v1h-1zM1099 653h1v1h-1zM1100 652h1v1h-1zM1101 651h1v1h-1zM1102 650h1v1h-1zM1103 649h1v1h-1zM1104 648h1v1h-1zM1105 647h1v1h-1zM1106 646h1v1h-1zM1107 645h2v1h-2zM1109 646h3v1h-3zM1112 647h2v1h-2zM1114 648h1v1h-1zM1115 648h1v2h-1zM1116 650h1v2h-1zM1117 652h1v3h-1zM1118 655h1v2h-1zM1119 657h1v3h-1zM1120 660h1v2h-1zM1121 662h1v3h-1zM1122 665h1v2h-1zM1123 667h1v2h-1zM1124 669h1v2h-1zM1125 671h1v1h-1zM1126 672h1v2h-1zM1127 674h1v1h-1zM1128 675h1v2h-1zM1129 677h1v1h-1zM1130 678h1v2h-1zM1131 680h1v1h-1zM1132 681h2v1h-2zM1134 682h1v1h-1zM1135 683h1v1h-1zM1136 684h2v1h-2zM1138 685h1v1h-1zM1139 686h3v1h-3zM1142 685h4v1h-4zM1146 684h4v1h-4zM1150 683h4v1h-4zM1154 682h4v1h-4zM1158 681h4v1h-4zM1162 680h11v1h-11zM1173 679h2v1h-2zM1175 678h2v1h-2zM1177 677h2v1h-2zM1179 676h1v1h-1zM1180 675h1v1h-1zM1181 674h1v1h-1zM1182 673h1v1h-1zM1183 672h1v1h-1zM1184 671h1v1h-1zM1185 670h1v1h-1zM1186 669h1v1h-1zM1187 668h1v1h-1zM1188 666h1v2h-1zM1189 664h1v2h-1zM1190 662h1v2h-1zM1191 661h1v1h-1zM1192 659h1v2h-1zM1193 657h1v2h-1zM1194 655h1v2h-1zM1195 654h1v1h-1zM1196 653h2v1h-2zM1198 652h2v1h-2zM1200 651h1v1h-1zM1201 650h2v1h-2zM1203 649h5v1h-5zM1208 648h4v1h-4z" fill="#ffffff" shape-rendering="crispEdges"/>
<path d="M3 646h1v1h-1zM4 644h1v2h-1zM5 643h1v1h-1zM6 642h1v1h-1zM7 640h1v2h-1zM8 639h1v1h-1zM9 638h1v1h-1zM10 636h1v2h-1zM11 635h2v1h-2zM13 634h2v1h-2zM15 633h2v1h-2zM17 632h2v1h-2zM19 631h5v1h-5zM24 632h4v1h-4zM28 633h1v1h-1zM29 634h1v1h-1zM30 635h1v1h-1zM31 636h1v1h-1zM32 637h1v1h-1zM33 638h1v1h-1zM34 639h1v1h-1zM35 640h1v1h-1zM36 641h1v2h-1zM37 643h1v1h-1zM38 644h1v1h-1zM39 645h1v2h-1zM40 647h1v1h-1zM41 648h1v1h-1zM42 649h1v2h-1zM43 651h1v2h-1zM44 653h1v2h-1zM45 655h1v2h-1zM46 657h1v2h-1zM47 659h1v3h-1zM48 662h1v2h-1zM49 664h1v2h-1zM50 666h1v2h-1zM51 668h1v2h-1zM52 670h1v2h-1zM53 672h1v2h-1zM54 674h1v2h-1zM55 676h1v1h-1zM56 677h1v2h-1zM57 679h1v2h-1zM58 681h1v2h-1zM59 683h1v1h-1zM60 684h1v2h-1zM61 686h1v1h-1zM62 687h1v1h-1zM63 688h1v2h-1zM64 690h1v1h-1zM65 691h1v1h-1zM66 692h1v2h-1zM67 694h5v1h-5zM72 695h5v1h-5zM77 694h3v1h-3zM80 693h2v1h-2zM82 692h2v1h-2zM84 691h1v1h-1zM85 690h1v1h-1zM86 689h2v1h-2zM88 688h1v1h-1zM89 687h1v1h-1zM90 686h1v1h-1zM91 685h1v1h-1zM92 684h2v1h-2zM94 683h1v1h-1zM95 682h1v1h-1zM96 681h2v1h-2zM98 680h1v1h-1zM99 679h2v1h-2zM101 678h3v1h-3zM104 677h2v1h-2zM106 676h12v1h-12zM118 677h4v1h-4zM122 678h2v1h-2zM124 679h2v1h-2zM126 680h2v1h-2zM128 681h1v1h-1zM129 682h2v1h-2zM131 683h1v1h-1zM132 684h2v1h-2zM134 685h1v1h-1zM135 686h1v1h-1zM136 687h2v1h-2zM138 688h1v1h-1zM139 689h2v1h-2zM141 690h2v1h-2zM143 691h2v1h-2zM145 692h2v1h-2zM147 693h5v1h-5zM152 694h8v1h-8zM160 695h6v1h-6zM166 696h4v1h-4zM170 697h6v1h-6zM176 698h8v1h-8zM184 697h4v1h-4zM188 696h2v1h-2zM190 695h2v1h-2zM192 694h1v1h-1zM193 693h2v1h-2zM195 692h1v1h-1zM196 691h1v1h-1zM197 689h1v2h-1zM198 688h1v1h-1zM199 687h1v1h-1zM200 686h1v1h-1zM201 684h1v2h-1zM202 683h1v1h-1zM203 682h1v1h-1zM204 680h1v2h-1zM205 678h1v2h-1zM206 677h1v1h-1zM207 675h1v2h-1zM208 674h1v1h-1zM209 672h1v2h-1zM210 670h1v2h-1zM211 669h1v1h-1zM212 667h1v2h-1zM213 665h1v2h-1zM214 664h1v1h-1zM215 662h1v2h-1zM216 661h1v1h-1zM217 659h1v2h-1zM218 657h1v2h-1zM219 656h1v1h-1zM220 655h1v1h-1zM221 653h1v2h-1zM222 652h1v1h-1zM223 651h1v1h-1zM224 650h1v1h-1zM225 648h1v2h-1zM226 647h1v1h-1zM227 646h1v1h-1zM228 645h2v1h-2zM230 644h1v1h-1zM231 643h1v1h-1zM232 642h2v1h-2zM234 641h1v1h-1zM235 640h5v1h-5zM240 641h8v1h-8zM248 642h13v1h-13zM261 641h3v1h-3zM264 640h2v1h-2zM266 639h6v1h-6zM272 638h6v1h-6zM278 639h4v1h-4zM282 640h3v1h-3zM285 641h3v1h-3zM288 642h2v1h-2zM290 643h6v1h-6zM296 642h4v1h-4zM300 641h2v1h-2zM302 640h2v1h-2zM304 639h1v1h-1zM305 638h2v1h-2zM307 637h2v1h-2zM309 636h3v1h-3zM312 635h2v1h-2zM314 634h4v1h-4zM318 633h4v1h-4zM322 632h2v1h-2zM324 633h2v1h-2zM326 634h2v1h-2zM328 635h1v1h-1zM329 636h2v1h-2zM331 637h1v1h-1zM332 638h1v1h-1zM333 639h1v1h-1zM334 640h2v1h-2zM336 641h1v1h-1zM337 642h1v1h-1zM338 643h1v1h-1zM339 644h1v1h-1zM340 645h1v2h-1zM341 647h1v1h-1zM342 648h1v1h-1zM343 649h1v2h-1zM344 651h1v1h-1zM345 652h1v1h-1zM346 653h1v2h-1zM347 655h1v1h-1zM348 656h1v1h-1zM349 657h1v2h-1zM350 659h1v1h-1zM351 660h1v1h-1zM352 661h1v1h-1zM353 662h1v2h-1zM354 664h1v1h-1zM355 665h1v1h-1zM356 666h1v1h-1zM357 667h1v1h-1zM358 668h2v1h-2zM360 669h1v1h-1zM361 670h1v1h-1zM362 671h1v1h-1zM363 672h5v1h-5zM368 671h5v1h-5zM373 670h2v1h-2zM375 669h2v1h-2zM377 668h2v1h-2zM379 667h2v1h-2zM381 666h3v1h-3zM384 665h2v1h-2zM386 664h3v1h-3zM389 663h2v1h-2zM391 662h2v1h-2zM393 661h2v1h-2zM395 660h5v1h-5zM400 659h12v1h-12zM412 660h1v1h-1zM413 661h1v1h-1zM414 662h2v1h-2zM416 663h1v1h-1zM417 664h1v1h-1zM418 665h1v1h-1zM419 666h1v1h-1zM420 667h1v1h-1zM421 668h1v1h-1zM422 669h2v1h-2zM424 670h1v1h-1zM425 671h1v1h-1zM426 672h1v1h-1zM427 673h1v1h-1zM428 674h1v1h-1zM429 675h1v1h-1zM430 676h1v1h-1zM431 677h1v1h-1zM432 678h1v1h-1zM433 679h1v1h-1zM434 680h1v1h-1zM435 681h2v1h-2zM437 680h3v1h-3zM440 679h2v1h-2zM442 678h2v1h-2zM444 677h1v1h-1zM445 676h1v1h-1zM446 675h1v1h-1zM447 673h1v2h-1zM448 672h1v1h-1zM449 671h1v1h-1zM450 670h1v1h-1zM451 668h1v2h-1zM452 666h1v2h-1zM453 664h1v2h-1zM454 662h1v2h-1zM455 660h1v2h-1zM456 658h1v2h-1zM457 656h1v2h-1zM458 654h1v2h-1zM459 653h1v1h-1zM460 652h1v1h-1zM461 650h1v2h-1zM462 649h1v1h-1zM463 648h1v1h-1zM464 647h1v1h-1zM465 645h1v2h-1zM466 644h1v1h-1zM467 643h1v1h-1zM468 642h2v1h-2zM470 641h1v1h-1zM471 640h1v1h-1zM472 639h2v1h-2zM474 638h1v1h-1zM475 637h3v1h-3zM478 636h4v1h-4zM482 635h3v1h-3zM485 634h3v1h-3zM488 633h2v1h-2zM490 632h6v1h-6zM496 631h8v1h-8zM504 632h8v1h-8zM512 633h16v1h-16zM528 634h5v1h-5zM533 635h3v1h-3zM536 636h2v1h-2zM538 637h3v1h-3zM541 638h3v1h-3zM544 639h2v1h-2zM546 640h3v1h-3zM549 641h3v1h-3zM552 642h2v1h-2zM554 643h12v1h-12zM566 642h4v1h-4zM570 641h3v1h-3zM573 640h3v1h-3zM576 639h2v1h-2zM578 638h3v1h-3zM581 637h2v1h-2zM583 636h2v1h-2zM585 635h2v1h-2zM587 634h5v1h-5zM592 635h4v1h-4zM596 636h2v1h-2zM598 637h1v1h-1zM599 638h1v1h-1zM600 639h2v1h-2zM602 640h1v1h-1zM603 641h1v1h-1zM604 642h1v2h-1zM605 644h1v1h-1zM606 645h1v2h-1zM607 647h1v1h-1zM608 648h1v2h-1zM609 650h1v1h-1zM610 651h1v2h-1zM611 653h1v1h-1zM612 654h1v1h-1zM613 655h1v1h-1zM614 656h2v1h-2zM616 657h1v1h-1zM617 658h1v1h-1zM618 659h1v1h-1zM619 660h1v1h-1zM620 661h1v1h-1zM621 662h1v1h-1zM622 663h2v1h-2zM624 664h1v1h-1zM625 665h1v1h-1zM626 666h1v1h-1zM627 667h3v1h-3zM630 666h4v1h-4zM634 665h6v1h-6zM640 666h12v1h-12zM652 667h2v1h-2zM654 668h1v1h-1zM655 669h1v1h-1zM656 670h2v1h-2zM658 671h1v1h-1zM659 672h1v1h-1zM660 673h2v1h-2zM662 674h2v1h-2zM664 675h1v1h-1zM665 676h2v1h-2zM667 677h5v1h-5zM672 678h8v1h-8zM680 677h5v1h-5zM685 676h2v1h-2zM687 675h2v1h-2zM689 674h2v1h-2zM691 673h2v1h-2zM693 672h3v1h-3zM696 671h2v1h-2zM698 670h2v1h-2zM700 669h1v1h-1zM701 668h1v1h-1zM702 667h2v1h-2zM704 666h1v1h-1zM705 665h1v1h-1zM706 664h1v1h-1zM707 663h1v1h-1zM708 662h2v1h-2zM710 661h2v1h-2zM712 660h1v1h-1zM713 659h2v1h-2zM715 658h1v1h-1zM716 657h2v1h-2zM718 656h1v1h-1zM719 655h1v1h-1zM720 654h2v1h-2zM722 653h1v1h-1zM723 652h5v1h-5zM728 653h6v1h-6zM734 652h4v1h-4zM738 651h3v1h-3zM741 650h3v1h-3zM744 649h2v1h-2zM746 648h3v1h-3zM749 647h2v1h-2zM751 646h2v1h-2zM753 645h2v1h-2zM755 644h5v1h-5zM760 645h4v1h-4zM764 646h2v1h-2zM766 647h2v1h-2zM768 648h1v1h-1zM769 649h2v1h-2zM771 650h2v1h-2zM773 651h2v1h-2zM775 652h2v1h-2zM777 653h2v1h-2zM779 654h3v1h-3zM782 653h4v1h-4zM786 652h2v1h-2zM788 651h1v1h-1zM789 650h1v1h-1zM790 649h1v1h-1zM791 648h1v1h-1zM792 647h1v1h-1zM793 646h1v1h-1zM794 645h1v1h-1zM795 644h1v1h-1zM796 643h2v1h-2zM798 642h2v1h-2zM800 641h1v1h-1zM801 640h2v1h-2zM803 639h3v1h-3zM806 638h4v1h-4zM810 637h3v1h-3zM813 638h3v1h-3zM816 639h2v1h-2zM818 640h6v1h-6zM824 641h6v1h-6zM830 640h4v1h-4zM834 639h3v1h-3zM837 638h2v1h-2zM839 637h2v1h-2zM841 636h2v1h-2zM843 635h3v1h-3zM846 634h4v1h-4zM850 633h11v1h-11zM861 632h3v1h-3zM864 631h2v1h-2zM866 630h3v1h-3zM869 629h3v1h-3zM872 628h2v1h-2zM874 627h6v1h-6zM880 626h8v1h-8zM888 627h5v1h-5zM893 628h3v1h-3zM896 629h2v1h-2zM898 630h4v1h-4zM902 631h4v1h-4zM906 632h3v1h-3zM909 633h3v1h-3zM912 634h2v1h-2zM914 635h2v1h-2zM916 636h2v1h-2zM918 637h2v1h-2zM920 638h1v1h-1zM921 639h2v1h-2zM923 640h1v1h-1zM924 641h2v1h-2zM926 642h2v1h-2zM928 643h1v1h-1zM929 644h2v1h-2zM931 645h1v1h-1zM932 646h2v1h-2zM934 647h2v1h-2zM936 648h1v1h-1zM937 649h2v1h-2zM939 650h5v1h-5zM944 649h5v1h-5zM949 648h3v1h-3zM952 647h2v1h-2zM954 646h2v1h-2zM956 645h1v1h-1zM957 643h1v2h-1zM958 642h1v1h-1zM959 641h1v1h-1zM960 640h1v1h-1zM961 638h1v2h-1zM962 637h1v1h-1zM963 636h2v1h-2zM965 635h2v1h-2zM967 634h2v1h-2zM969 633h2v1h-2zM971 632h5v1h-5zM976 631h4v1h-4zM980 632h1v1h-1zM981 633h1v1h-1zM982 634h1v1h-1zM983 635h1v1h-1zM984 636h1v1h-1zM985 637h1v1h-1zM986 638h1v1h-1zM987 639h1v1h-1zM988 640h1v1h-1zM989 641h1v2h-1zM990 643h1v1h-1zM991 644h1v1h-1zM992 645h1v1h-1zM993 646h1v2h-1zM994 648h1v1h-1zM995 649h1v1h-1zM996 650h1v2h-1zM997 652h1v2h-1zM998 654h1v2h-1zM999 656h1v1h-1zM1000 657h1v2h-1zM1001 659h1v2h-1zM1002 661h1v2h-1zM1003 663h1v1h-1zM1004 664h2v1h-2zM1006 665h2v1h-2zM1008 666h1v1h-1zM1009 667h2v1h-2zM1011 668h3v1h-3zM1014 667h4v1h-4zM1018 666h2v1h-2zM1020 665h2v1h-2zM1022 664h2v1h-2zM1024 663h1v1h-1zM1025 662h2v1h-2zM1027 661h2v1h-2zM1029 660h3v1h-3zM1032 659h2v1h-2zM1034 658h6v1h-6zM1040 657h8v1h-8zM1048 658h16v1h-16zM1064 659h13v1h-13zM1077 660h2v1h-2zM1079 661h2v1h-2zM1081 662h2v1h-2zM1083 663h5v1h-5zM1088 662h6v1h-6zM1094 661h4v1h-4zM1098 660h2v1h-2zM1100 659h1v1h-1zM1101 658h1v1h-1zM1102 657h2v1h-2zM1104 656h1v1h-1zM1105 655h1v1h-1zM1106 654h1v1h-1zM1107 653h2v1h-2zM1109 652h3v1h-3zM1112 651h2v1h-2zM1114 650h3v1h-3zM1117 651h3v1h-3zM1120 652h2v1h-2zM1122 653h2v1h-2zM1124 654h1v2h-1zM1125 656h1v1h-1zM1126 657h1v2h-1zM1127 659h1v1h-1zM1128 660h1v2h-1zM1129 662h1v1h-1zM1130 663h1v2h-1zM1131 665h1v1h-1zM1132 666h1v2h-1zM1133 668h1v2h-1zM1134 670h1v1h-1zM1135 671h1v2h-1zM1136 673h1v1h-1zM1137 674h1v2h-1zM1138 676h1v2h-1zM1139 678h1v1h-1zM1140 679h2v1h-2zM1142 680h2v1h-2zM1144 681h1v1h-1zM1145 682h2v1h-2zM1147 683h5v1h-5zM1152 684h6v1h-6zM1158 683h4v1h-4zM1162 682h6v1h-6zM1168 681h6v1h-6zM1174 680h4v1h-4zM1178 679h3v1h-3zM1181 678h2v1h-2zM1183 677h2v1h-2zM1185 676h2v1h-2zM1187 675h1v1h-1zM1188 674h1v1h-1zM1189 672h1v2h-1zM1190 671h1v1h-1zM1191 670h1v1h-1zM1192 669h1v1h-1zM1193 667h1v2h-1zM1194 666h1v1h-1zM1195 665h1v1h-1zM1196 664h1v1h-1zM1197 663h1v1h-1zM1198 662h2v1h-2zM1200 661h1v1h-1zM1201 660h1v1h-1zM1202 659h1v1h-1zM1203 658h1v1h-1zM1204 657h1v1h-1zM1205 656h1v1h-1zM1206 655h2v1h-2zM1208 654h1v1h-1zM1209 653h1v1h-1zM1210 652h1v1h-1zM1211 651h1v1h-1z" fill="#1e90ff" shape-rendering="crispEdges"/>
<polygon points="57.9,306 61.9,306 61.9,313 65.9,309.5 65.9,314 59.9,320 53.9,314 53.9,309.5 57.9,313" fill="#ff0000"/>
<polygon points="417.9,391 421.9,391 421.9,398 425.9,394.5 425.9,399 419.9,405 413.9,399 413.9,394.5 417.9,398" fill="#ff0000"/>
<polygon points="290.9,437 297.09999999999997,443.5 297.09999999999997,447.2 292.9,443.3 292.9,451 288.9,451 288.9,443.3 284.7,447.2 284.7,443.5" fill="#00ff00"/>
<polygon points="450.9,411 457.09999999999997,417.5 457.09999999999997,421.2 452.9,417.3 452.9,425 448.9,425 448.9,417.3 444.7,421.2 444.7,417.5" fill="#00ff00"/>
<path d="M3 348h2v1h-2zM5 347h1v1h-1zM6 346h2v1h-2zM8 345h2v1h-2zM10 344h1v1h-1zM11 343h2v1h-2zM13 342h2v1h-2zM15 341h1v1h-1zM16 340h2v1h-2zM18 339h2v1h-2zM20 338h1v1h-1zM27 334h1v1h-1zM28 333h2v1h-2zM30 332h1v1h-1zM31 331h2v1h-2zM33 330h1v1h-1zM34 329h2v1h-2zM36 328h2v1h-2zM38 327h1v1h-1zM39 326h2v1h-2zM41 325h2v1h-2zM43 324h1v1h-1zM44 323h1v1h-1zM51 319h2v1h-2zM53 318h1v1h-1zM54 317h2v1h-2zM56 316h2v1h-2zM58 315h1v1h-1zM59 314h1v1h-1zM60 315h2v1h-2zM62 316h1v1h-1zM63 317h2v1h-2zM65 318h2v1h-2zM67 319h2v1h-2zM75 323h1v1h-1zM76 324h2v1h-2zM78 325h2v1h-2zM80 326h1v1h-1zM81 327h2v1h-2zM83 328h2v1h-2zM85 329h2v1h-2zM87 330h2v1h-2zM89 331h2v1h-2zM91 332h1v1h-1zM92 333h1v1h-1zM99 336h1v1h-1zM100 337h1v1h-1zM101 338h2v1h-2zM103 339h2v1h-2zM105 340h2v1h-2zM107 341h2v1h-2zM109 342h1v1h-1zM110 343h2v1h-2zM112 344h2v1h-2zM114 345h2v1h-2zM116 346h1v1h-1zM123 350h2v1h-2zM125 351h2v1h-2zM127 352h1v1h-1zM128 353h2v1h-2zM130 354h2v1h-2zM132 355h2v1h-2zM134 356h2v1h-2zM136 357h1v1h-1zM137 358h2v1h-2zM139 359h2v1h-2zM147 363h1v1h-1zM148 364h2v1h-2zM150 365h2v1h-2zM152 366h2v1h-2zM154 367h1v1h-1zM155 368h2v1h-2zM157 369h2v1h-2zM159 370h2v1h-2zM161 371h2v1h-2zM163 372h1v1h-1zM164 373h1v1h-1zM171 376h1v1h-1zM172 377h1v1h-1zM173 378h2v1h-2zM175 379h2v1h-2zM177 380h2v1h-2zM179 381h2v1h-2zM181 382h1v1h-1zM182 383h2v1h-2zM184 384h2v1h-2zM186 385h2v1h-2zM188 386h1v1h-1zM195 390h2v1h-2zM197 391h2v1h-2zM199 392h1v1h-1zM200 393h2v1h-2zM202 394h2v1h-2zM204 395h2v1h-2zM206 396h2v1h-2zM208 397h1v1h-1zM209 398h2v1h-2zM211 399h2v1h-2zM219 403h1v1h-1zM220 404h2v1h-2zM222 405h2v1h-2zM224 406h2v1h-2zM226 407h2v1h-2zM228 408h1v1h-1zM229 409h2v1h-2zM231 410h2v1h-2zM233 411h2v1h-2zM235 412h2v1h-2zM243 416h1v1h-1zM244 417h2v1h-2zM246 418h1v1h-1zM247 419h2v1h-2zM249 420h2v1h-2zM251 421h2v1h-2zM253 422h2v1h-2zM255 423h1v1h-1zM256 424h2v1h-2zM258 425h2v1h-2zM260 426h1v1h-1zM267 430h2v1h-2zM269 431h2v1h-2zM271 432h2v1h-2zM273 433h1v1h-1zM274 434h2v1h-2zM276 435h2v1h-2zM278 436h2v1h-2zM280 437h2v1h-2zM282 438h1v1h-1zM283 439h2v1h-2zM291 443h2v1h-2zM293 442h3v1h-3zM296 441h3v1h-3zM299 440h3v1h-3zM302 439h3v1h-3zM305 438h3v1h-3zM308 437h1v1h-1zM315 435h2v1h-2zM317 434h3v1h-3zM320 433h3v1h-3zM323 432h3v1h-3zM326 431h3v1h-3zM329 430h3v1h-3zM332 429h1v1h-1zM339 427h2v1h-2zM341 426h3v1h-3zM344 425h3v1h-3zM347 424h3v1h-3zM350 423h3v1h-3zM353 422h3v1h-3zM356 421h1v1h-1zM363 419h1v1h-1zM364 418h3v1h-3zM367 417h3v1h-3zM370 416h3v1h-3zM373 415h3v1h-3zM376 414h3v1h-3zM379 413h2v1h-2zM387 411h1v1h-1zM388 410h3v1h-3zM391 409h3v1h-3zM394 408h3v1h-3zM397 407h3v1h-3zM400 406h3v1h-3zM403 405h2v1h-2zM411 403h1v1h-1zM412 402h3v1h-3zM415 401h3v1h-3zM418 400h2v1h-2zM420 401h2v1h-2zM422 402h2v1h-2zM424 403h2v1h-2zM426 404h2v1h-2zM428 405h1v1h-1zM435 409h2v1h-2zM437 410h2v1h-2zM439 411h2v1h-2zM441 412h2v1h-2zM443 413h2v1h-2zM445 414h2v1h-2zM447 415h2v1h-2zM449 416h2v1h-2z" fill="#888888" shape-rendering="crispEdges"/>
<g style="text-rendering:geometricPrecision"><!--TXTGRP-->
<text x="1540" y="16" font-size="9.8" fill="#a0a0a0" text-anchor="start" textLength="28.2" lengthAdjust="spacingAndGlyphs">30.410</text>
<text x="1540" y="49" font-size="9.8" fill="#a0a0a0" text-anchor="start" textLength="28.2" lengthAdjust="spacingAndGlyphs">29.115</text>
<text x="1540" y="82" font-size="9.8" fill="#a0a0a0" text-anchor="start" textLength="28.2" lengthAdjust="spacingAndGlyphs">27.855</text>
<text x="1540" y="115" font-size="9.8" fill="#a0a0a0" text-anchor="start" textLength="28.2" lengthAdjust="spacingAndGlyphs">26.595</text>
<text x="1540" y="148" font-size="9.8" fill="#a0a0a0" text-anchor="start" textLength="28.2" lengthAdjust="spacingAndGlyphs">25.300</text>
<text x="1540" y="181" font-size="9.8" fill="#a0a0a0" text-anchor="start" textLength="28.2" lengthAdjust="spacingAndGlyphs">24.040</text>
<text x="1540" y="214" font-size="9.8" fill="#a0a0a0" text-anchor="start" textLength="28.2" lengthAdjust="spacingAndGlyphs">22.745</text>
<text x="1540" y="247" font-size="9.8" fill="#a0a0a0" text-anchor="start" textLength="28.2" lengthAdjust="spacingAndGlyphs">21.485</text>
<text x="1540" y="280" font-size="9.8" fill="#a0a0a0" text-anchor="start" textLength="28.2" lengthAdjust="spacingAndGlyphs">20.190</text>
<text x="1540" y="313" font-size="9.8" fill="#a0a0a0" text-anchor="start" textLength="28.2" lengthAdjust="spacingAndGlyphs">18.930</text>
<text x="1540" y="346" font-size="9.8" fill="#a0a0a0" text-anchor="start" textLength="28.2" lengthAdjust="spacingAndGlyphs">17.635</text>
<text x="1540" y="379" font-size="9.8" fill="#a0a0a0" text-anchor="start" textLength="28.2" lengthAdjust="spacingAndGlyphs">16.375</text>
<text x="1540" y="412" font-size="9.8" fill="#a0a0a0" text-anchor="start" textLength="28.2" lengthAdjust="spacingAndGlyphs">15.080</text>
<text x="1540" y="445" font-size="9.8" fill="#a0a0a0" text-anchor="start" textLength="28.2" lengthAdjust="spacingAndGlyphs">13.820</text>
<text x="1540" y="478" font-size="9.8" fill="#a0a0a0" text-anchor="start" textLength="28.2" lengthAdjust="spacingAndGlyphs">12.525</text>
<text x="1540" y="511" font-size="9.8" fill="#a0a0a0" text-anchor="start" textLength="28.2" lengthAdjust="spacingAndGlyphs">11.265</text>
<rect x="1536" y="93" width="36" height="11" fill="#808080" shape-rendering="crispEdges"/>
<text x="1540" y="102" font-size="9.8" fill="#202020" text-anchor="start" textLength="28.2" lengthAdjust="spacingAndGlyphs">27.102</text>
<text x="1536.8" y="522.3" font-size="9.8" fill="#a0a0a0" text-anchor="start" textLength="14.7" lengthAdjust="spacingAndGlyphs">100</text>
<text x="1536.8" y="548.4" font-size="9.8" fill="#a0a0a0" text-anchor="start" textLength="9.6" lengthAdjust="spacingAndGlyphs">70</text>
<text x="1536.8" y="591.4" font-size="9.8" fill="#a0a0a0" text-anchor="start" textLength="9.6" lengthAdjust="spacingAndGlyphs">30</text>
<text x="1536.8" y="616.6" font-size="9.8" fill="#a0a0a0" text-anchor="start" textLength="4.5" lengthAdjust="spacingAndGlyphs">0</text>
<text x="1536.8" y="632.2" font-size="9.8" fill="#a0a0a0" text-anchor="start" textLength="14.7" lengthAdjust="spacingAndGlyphs">100</text>
<text x="1536.8" y="643.5" font-size="9.8" fill="#a0a0a0" text-anchor="start" textLength="9.6" lengthAdjust="spacingAndGlyphs">80</text>
<text x="1536.8" y="694.6" font-size="9.8" fill="#a0a0a0" text-anchor="start" textLength="9.6" lengthAdjust="spacingAndGlyphs">20</text>
<text x="1536.8" y="704.2" font-size="9.8" fill="#a0a0a0" text-anchor="start" textLength="4.5" lengthAdjust="spacingAndGlyphs">0</text>
<text x="1532.5" y="120" font-size="9.8" fill="#00bfff" text-anchor="end" textLength="17.4" lengthAdjust="spacingAndGlyphs">38.2</text>
<text x="1532.5" y="264" font-size="9.8" fill="#00bfff" text-anchor="end" textLength="17.4" lengthAdjust="spacingAndGlyphs">23.6</text>
<text transform="translate(2.4,721) scale(0.93,1)" font-size="9.8" fill="#a0a0a0">19 Feb 2020</text>
<text transform="translate(66.4,721) scale(0.93,1)" font-size="9.8" fill="#a0a0a0">2 Mar 2020</text>
<text transform="translate(130.4,721) scale(0.93,1)" font-size="9.8" fill="#a0a0a0">12 Mar 2020</text>
<text transform="translate(194.4,721) scale(0.93,1)" font-size="9.8" fill="#a0a0a0">24 Mar 2020</text>
<text transform="translate(258.4,721) scale(0.93,1)" font-size="9.8" fill="#a0a0a0">3 Apr 2020</text>
<text transform="translate(322.4,721) scale(0.93,1)" font-size="9.8" fill="#a0a0a0">16 Apr 2020</text>
<text transform="translate(386.4,721) scale(0.93,1)" font-size="9.8" fill="#a0a0a0">28 Apr 2020</text>
<text transform="translate(450.4,721) scale(0.93,1)" font-size="9.8" fill="#a0a0a0">8 May 2020</text>
<text transform="translate(514.4,721) scale(0.93,1)" font-size="9.8" fill="#a0a0a0">20 May 2020</text>
<text transform="translate(578.4,721) scale(0.93,1)" font-size="9.8" fill="#a0a0a0">1 Jun 2020</text>
<text transform="translate(642.4,721) scale(0.93,1)" font-size="9.8" fill="#a0a0a0">11 Jun 2020</text>
<text transform="translate(706.4,721) scale(0.93,1)" font-size="9.8" fill="#a0a0a0">23 Jun 2020</text>
<text transform="translate(770.4,721) scale(0.93,1)" font-size="9.8" fill="#a0a0a0">3 Jul 2020</text>
<text transform="translate(834.4,721) scale(0.93,1)" font-size="9.8" fill="#a0a0a0">15 Jul 2020</text>
<text transform="translate(898.4,721) scale(0.93,1)" font-size="9.8" fill="#a0a0a0">27 Jul 2020</text>
<text transform="translate(962.4,721) scale(0.93,1)" font-size="9.8" fill="#a0a0a0">6 Aug 2020</text>
<text transform="translate(1026.4,721) scale(0.93,1)" font-size="9.8" fill="#a0a0a0">18 Aug 2020</text>
<text transform="translate(1090.4,721) scale(0.93,1)" font-size="9.8" fill="#a0a0a0">28 Aug 2020</text>
<text transform="translate(1154.4,721) scale(0.93,1)" font-size="9.8" fill="#a0a0a0">9 Sep 2020</text>
<text x="18.2" y="14" font-size="9.8" fill="#a0a0a0" text-anchor="start" textLength="57.3" lengthAdjust="spacingAndGlyphs">SILVER,Daily</text>
<text x="82.1" y="14" font-size="9.8" fill="#a0a0a0" text-anchor="start" textLength="120.4" lengthAdjust="spacingAndGlyphs">27.036 27.211 26.915 27.102</text>
<polygon points="6,13.3 13.4,13.3 9.7,8.8" fill="#808080"/>
<text x="7.4" y="525" font-size="9.8" fill="#a0a0a0" text-anchor="start" xml:space="preserve" textLength="136.5" lengthAdjust="spacingAndGlyphs">RSI(14) 55.0932  RSI(3) 60.0953</text>
<text x="7.4" y="635" font-size="9.8" fill="#a0a0a0" text-anchor="start" xml:space="preserve" textLength="121.4" lengthAdjust="spacingAndGlyphs">Stoch(9,3,3) 71.1286 68.3258</text>
</g>
</svg>

<div class="big" style="left:6px;top:46px;width:109px;height:40px"></div>
<div class="big" style="left:117px;top:46px;width:108px;height:40px"></div>
<div class="tab" style="left:6px;top:22px;width:52px;height:25px"><span style="left:11.500px;top:3.500px;transform:scaleX(0.870)">SELL</span><i style="left:4px;width:44px"></i></div>
<div class="tab" style="left:174px;top:22px;width:51px;height:25px"><span style="left:11.200px;top:3.500px;transform:scaleX(0.990)">BUY</span><i style="left:2px;width:44px"></i></div>
<div class="spin"><div class="btn" style="left:1px"><svg width="18" height="18"><polygon points="5.700,7 11.300,7 8.500,10.300" fill="#3d55c4"/></svg></div><b style="left:20px"></b><div class="val">1.00</div><b style="left:88px"></b><div class="btn" style="right:1px"><svg width="18" height="18"><polygon points="5.900,10 11.500,10 8.700,6.800" fill="#3d55c4"/></svg></div></div>
<div class="num" style="left:36px;top:66.300px;font-size:12px;font-weight:bold">27</div>
<div class="num" style="left:53px;top:47px;font-size:33.500px;letter-spacing:-1.500px">10</div>
<div class="num" style="left:93.300px;top:51px;font-size:12px;font-weight:bold">2</div>
<div class="num" style="left:146px;top:66.300px;font-size:12px;font-weight:bold">27</div>
<div class="num" style="left:164px;top:47px;font-size:33.500px;letter-spacing:-1.500px">15</div>
<div class="num" style="left:204.500px;top:51px;font-size:12px;font-weight:bold">2</div>


<div class="logo">
<svg width="138" height="72" viewBox="0 0 138 72" style="position:absolute;left:0;top:0">

<g fill="none" stroke="#3e8fd4" stroke-width="5.6">
<path d="M6.1 38.7V22.7a5.7 5.7 0 0 1 11.4 0V38.7M17.5 22.7a5.75 5.75 0 0 1 11.5 0V38.7"/>
<path d="M40.1 14V27.5a8.3 8.3 0 0 0 8.3 8.4q5.500 0 9.300 -3.600" stroke-width="5.2"/>
<path d="M33.3 20.800H52" stroke-width="4.600"/>
</g>
<g fill="none" stroke="#e81c16" stroke-width="5">
<path d="M58.3 14V24.300a6.500 6.500 0 0 0 6.500 6.500H69.500q2.200 0 3.800 -1.400"/>
<path d="M67.700 14V38.700"/>
</g>
<g fill="none" stroke="#1c1414" stroke-width="3.300" stroke-linejoin="miter">
<path d="M76.600 15.200L81.300 18.300"/>
<path d="M76.300 21H81.200L77.300 29.300L80.600 32.800L76.600 38"/>
<path d="M80.300 33Q83.500 37.300 89 37.300H104"/>
<path d="M85.600 16.200L103.300 15.200M85.600 15.500V31.500Q85.600 33 84.600 33.800" stroke-width="3.100"/>
<path d="M90.300 21.200H102.400L101.500 23Q97 30 90.500 32.800M91 25Q96 30 103 32.800" stroke-width="3.100" stroke-linejoin="bevel"/>
<path d="M112.600 14.500Q111 19.500 107.800 22.600" stroke-width="4"/>
<path d="M111.900 19.500V38.600" stroke-width="4"/>
<path d="M118.400 14.800V33Q118.400 36.500 116.800 38.200" stroke-width="3.600"/>
<path d="M118.400 15.700H134.200V35.500Q134.200 37.600 131 37.600" stroke-width="3.500"/>
<path d="M126.200 15.700V38.600" stroke-width="3.600"/>
<path d="M118.400 23.200H134.200M118.400 30.800H134.200" stroke-width="3"/>
</g>
<text x="2.500" y="59.300" font-family="'Liberation Sans',sans-serif" font-weight="bold" font-size="15" fill="#3589d6" stroke="#3589d6" stroke-width="0.35" textLength="133" lengthAdjust="spacing">mt<tspan fill="#e81c16" stroke="#e81c16">4</tspan>fanyong.com</text>

</svg>
</div>

</body></html>
